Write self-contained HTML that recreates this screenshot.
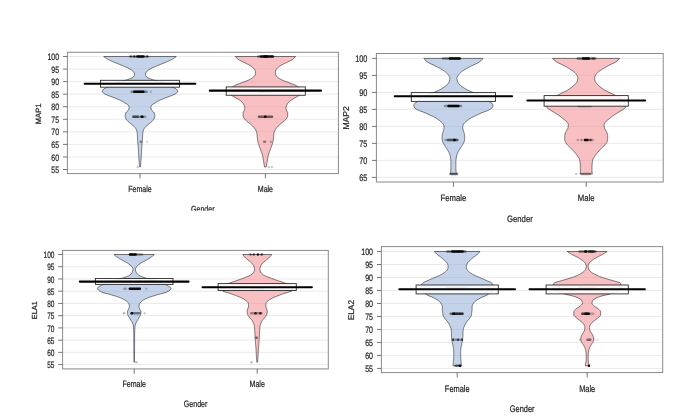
<!DOCTYPE html>
<html><head><meta charset="utf-8"><title>Pirate plots: MAP and ELA scores by gender</title>
<style>html,body{margin:0;padding:0;background:#fff;}body{width:694px;height:420px;overflow:hidden;font-family:"Liberation Sans",sans-serif;}svg{display:block;filter:blur(0.5px);}</style>
</head><body>
<svg width="694" height="420" viewBox="0 0 694 420"><defs><clipPath id="gc0"><rect x="0" y="0" width="694" height="210.7"/></clipPath></defs><g font-family="Liberation Sans, sans-serif" fill="#1e1e1e" stroke="#1e1e1e" stroke-width="0.22" text-rendering="geometricPrecision"><line x1="67.40" y1="169.50" x2="338.40" y2="169.50" stroke="#e8e8e8" stroke-width="0.9"/>
<line x1="67.40" y1="156.94" x2="338.40" y2="156.94" stroke="#e8e8e8" stroke-width="0.9"/>
<line x1="67.40" y1="144.38" x2="338.40" y2="144.38" stroke="#e8e8e8" stroke-width="0.9"/>
<line x1="67.40" y1="131.83" x2="338.40" y2="131.83" stroke="#e8e8e8" stroke-width="0.9"/>
<line x1="67.40" y1="119.28" x2="338.40" y2="119.28" stroke="#e8e8e8" stroke-width="0.9"/>
<line x1="67.40" y1="106.72" x2="338.40" y2="106.72" stroke="#e8e8e8" stroke-width="0.9"/>
<line x1="67.40" y1="94.16" x2="338.40" y2="94.16" stroke="#e8e8e8" stroke-width="0.9"/>
<line x1="67.40" y1="81.61" x2="338.40" y2="81.61" stroke="#e8e8e8" stroke-width="0.9"/>
<line x1="67.40" y1="69.06" x2="338.40" y2="69.06" stroke="#e8e8e8" stroke-width="0.9"/>
<line x1="67.40" y1="56.50" x2="338.40" y2="56.50" stroke="#e8e8e8" stroke-width="0.9"/>
<path d="M176.32,56.50 L175.70,57.00 L175.01,57.50 L174.27,58.00 L173.48,58.50 L172.64,59.00 L171.76,59.50 L170.84,60.00 L169.82,60.50 L168.73,61.00 L167.59,61.50 L166.42,62.00 L165.24,62.50 L164.03,63.00 L162.76,63.50 L161.46,64.00 L160.16,64.50 L158.88,65.00 L157.66,65.50 L156.46,66.00 L155.27,66.50 L154.11,67.00 L153.00,67.50 L151.97,68.00 L151.04,68.50 L150.13,69.00 L149.25,69.50 L148.44,70.00 L147.74,70.50 L147.19,71.00 L146.76,71.50 L146.35,72.00 L145.98,72.50 L145.68,73.00 L145.47,73.50 L145.40,74.00 L145.44,74.50 L145.57,75.00 L145.76,75.50 L146.02,76.00 L146.33,76.50 L146.68,77.00 L147.33,77.50 L148.31,78.00 L149.47,78.50 L150.69,79.00 L152.05,79.50 L153.66,80.00 L155.46,80.50 L157.38,81.00 L159.33,81.50 L161.24,82.00 L163.04,82.50 L164.64,83.00 L165.99,83.50 L167.11,84.00 L168.12,84.50 L169.05,85.00 L169.91,85.50 L170.74,86.00 L171.57,86.50 L172.42,87.00 L173.31,87.50 L174.33,88.00 L175.48,88.50 L176.30,89.00 L176.74,89.50 L177.12,90.00 L177.40,90.50 L177.57,91.00 L177.58,91.49 L177.41,91.99 L177.14,92.49 L176.66,92.99 L175.97,93.49 L175.18,93.99 L174.19,94.49 L173.05,94.99 L171.85,95.49 L170.63,95.99 L169.32,96.49 L167.98,96.99 L166.65,97.49 L165.32,97.99 L163.99,98.49 L162.70,98.99 L161.49,99.49 L160.32,99.99 L159.20,100.49 L158.21,100.99 L157.37,101.49 L156.61,101.99 L155.87,102.49 L155.08,102.99 L154.16,103.49 L153.28,103.99 L152.61,104.49 L152.10,104.99 L151.62,105.49 L151.23,105.99 L150.97,106.49 L150.90,106.99 L150.93,107.49 L150.99,107.99 L151.09,108.49 L151.20,108.99 L151.34,109.49 L151.53,109.99 L151.90,110.49 L152.42,110.99 L152.98,111.49 L153.53,111.99 L153.97,112.49 L154.24,112.99 L154.42,113.49 L154.59,113.99 L154.74,114.49 L154.84,114.99 L154.89,115.49 L154.89,115.99 L154.83,116.49 L154.73,116.99 L154.59,117.49 L154.42,117.99 L154.24,118.49 L154.02,118.99 L153.70,119.49 L153.31,119.99 L152.87,120.49 L152.39,120.99 L151.91,121.49 L151.38,121.99 L150.78,122.49 L150.15,122.99 L149.51,123.49 L148.87,123.99 L148.27,124.49 L147.66,124.99 L147.03,125.49 L146.42,125.99 L145.87,126.49 L145.39,126.99 L144.99,127.49 L144.62,127.99 L144.27,128.49 L143.97,128.99 L143.71,129.49 L143.50,129.99 L143.34,130.49 L143.18,130.99 L143.05,131.49 L142.94,131.99 L142.85,132.49 L142.79,132.99 L142.75,133.49 L142.72,133.99 L142.69,134.49 L142.66,134.99 L142.64,135.49 L142.62,135.99 L142.60,136.49 L142.58,136.99 L142.56,137.49 L142.54,137.99 L142.51,138.49 L142.47,138.99 L142.43,139.49 L142.39,139.99 L142.35,140.49 L142.30,140.99 L142.26,141.49 L142.21,141.99 L142.16,142.49 L142.11,142.99 L142.07,143.49 L142.03,143.99 L141.99,144.49 L141.95,144.99 L141.91,145.49 L141.87,145.99 L141.83,146.49 L141.80,146.99 L141.76,147.49 L141.73,147.99 L141.70,148.49 L141.66,148.99 L141.63,149.49 L141.60,149.99 L141.57,150.49 L141.54,150.99 L141.52,151.49 L141.49,151.99 L141.47,152.49 L141.44,152.99 L141.42,153.49 L141.39,153.99 L141.37,154.49 L141.34,154.99 L141.31,155.49 L141.28,155.99 L141.25,156.49 L141.22,156.99 L141.19,157.49 L141.15,157.99 L141.12,158.49 L141.08,158.99 L141.05,159.49 L141.01,159.99 L140.97,160.48 L140.93,160.98 L140.89,161.48 L140.85,161.98 L140.81,162.48 L140.77,162.98 L140.73,163.48 L140.68,163.98 L140.63,164.48 L140.58,164.98 L140.53,165.48 L140.46,165.98 L140.39,166.48 L140.30,166.98 L139.70,166.98 L139.61,166.48 L139.54,165.98 L139.47,165.48 L139.42,164.98 L139.37,164.48 L139.32,163.98 L139.27,163.48 L139.23,162.98 L139.19,162.48 L139.15,161.98 L139.11,161.48 L139.07,160.98 L139.03,160.48 L138.99,159.99 L138.95,159.49 L138.92,158.99 L138.88,158.49 L138.85,157.99 L138.81,157.49 L138.78,156.99 L138.75,156.49 L138.72,155.99 L138.69,155.49 L138.66,154.99 L138.63,154.49 L138.61,153.99 L138.58,153.49 L138.56,152.99 L138.53,152.49 L138.51,151.99 L138.48,151.49 L138.46,150.99 L138.43,150.49 L138.40,149.99 L138.37,149.49 L138.34,148.99 L138.30,148.49 L138.27,147.99 L138.24,147.49 L138.20,146.99 L138.17,146.49 L138.13,145.99 L138.09,145.49 L138.05,144.99 L138.01,144.49 L137.97,143.99 L137.93,143.49 L137.89,142.99 L137.84,142.49 L137.79,141.99 L137.74,141.49 L137.70,140.99 L137.65,140.49 L137.61,139.99 L137.57,139.49 L137.53,138.99 L137.49,138.49 L137.46,137.99 L137.44,137.49 L137.42,136.99 L137.40,136.49 L137.38,135.99 L137.36,135.49 L137.34,134.99 L137.31,134.49 L137.28,133.99 L137.25,133.49 L137.21,132.99 L137.15,132.49 L137.06,131.99 L136.95,131.49 L136.82,130.99 L136.66,130.49 L136.50,129.99 L136.29,129.49 L136.03,128.99 L135.73,128.49 L135.38,127.99 L135.01,127.49 L134.61,126.99 L134.13,126.49 L133.58,125.99 L132.97,125.49 L132.34,124.99 L131.73,124.49 L131.13,123.99 L130.49,123.49 L129.85,122.99 L129.22,122.49 L128.62,121.99 L128.09,121.49 L127.61,120.99 L127.13,120.49 L126.69,119.99 L126.30,119.49 L125.98,118.99 L125.76,118.49 L125.58,117.99 L125.41,117.49 L125.27,116.99 L125.17,116.49 L125.11,115.99 L125.11,115.49 L125.16,114.99 L125.26,114.49 L125.41,113.99 L125.58,113.49 L125.76,112.99 L126.03,112.49 L126.47,111.99 L127.02,111.49 L127.58,110.99 L128.10,110.49 L128.47,109.99 L128.66,109.49 L128.80,108.99 L128.91,108.49 L129.01,107.99 L129.07,107.49 L129.10,106.99 L129.03,106.49 L128.77,105.99 L128.38,105.49 L127.90,104.99 L127.39,104.49 L126.72,103.99 L125.84,103.49 L124.92,102.99 L124.13,102.49 L123.39,101.99 L122.63,101.49 L121.79,100.99 L120.80,100.49 L119.68,99.99 L118.51,99.49 L117.30,98.99 L116.01,98.49 L114.68,97.99 L113.35,97.49 L112.02,96.99 L110.68,96.49 L109.37,95.99 L108.15,95.49 L106.95,94.99 L105.81,94.49 L104.82,93.99 L104.03,93.49 L103.34,92.99 L102.86,92.49 L102.59,91.99 L102.42,91.49 L102.43,91.00 L102.60,90.50 L102.88,90.00 L103.26,89.50 L103.70,89.00 L104.52,88.50 L105.67,88.00 L106.69,87.50 L107.58,87.00 L108.43,86.50 L109.26,86.00 L110.09,85.50 L110.95,85.00 L111.88,84.50 L112.89,84.00 L114.01,83.50 L115.36,83.00 L116.96,82.50 L118.76,82.00 L120.67,81.50 L122.62,81.00 L124.54,80.50 L126.34,80.00 L127.95,79.50 L129.31,79.00 L130.53,78.50 L131.69,78.00 L132.67,77.50 L133.32,77.00 L133.67,76.50 L133.98,76.00 L134.24,75.50 L134.43,75.00 L134.56,74.50 L134.60,74.00 L134.53,73.50 L134.32,73.00 L134.02,72.50 L133.65,72.00 L133.24,71.50 L132.81,71.00 L132.26,70.50 L131.56,70.00 L130.75,69.50 L129.87,69.00 L128.96,68.50 L128.03,68.00 L127.00,67.50 L125.89,67.00 L124.73,66.50 L123.54,66.00 L122.34,65.50 L121.12,65.00 L119.84,64.50 L118.54,64.00 L117.24,63.50 L115.97,63.00 L114.76,62.50 L113.58,62.00 L112.41,61.50 L111.27,61.00 L110.18,60.50 L109.16,60.00 L108.24,59.50 L107.36,59.00 L106.52,58.50 L105.73,58.00 L104.99,57.50 L104.30,57.00 L103.68,56.50 Z" fill="rgb(148,175,217)" fill-opacity="0.55" stroke="rgba(0,0,0,0.72)" stroke-width="0.7" stroke-linejoin="round"/>
<path d="M295.67,56.50 L295.27,57.00 L294.79,57.50 L294.24,58.00 L293.64,58.50 L292.99,59.00 L292.29,59.50 L291.54,60.00 L290.66,60.50 L289.68,61.00 L288.65,61.50 L287.61,62.00 L286.60,62.50 L285.61,63.00 L284.59,63.50 L283.57,64.00 L282.59,64.50 L281.67,65.00 L280.85,65.50 L280.07,66.00 L279.33,66.50 L278.63,67.00 L278.01,67.50 L277.47,68.00 L277.03,68.50 L276.62,69.00 L276.23,69.50 L275.89,70.00 L275.64,70.50 L275.51,71.00 L275.48,71.50 L275.45,72.00 L275.43,72.50 L275.41,73.00 L275.40,73.50 L275.40,74.00 L275.48,74.50 L275.69,75.00 L276.01,75.50 L276.41,76.00 L276.84,76.50 L277.29,77.00 L277.84,77.50 L278.53,78.00 L279.32,78.50 L280.19,79.00 L281.12,79.50 L282.10,80.00 L283.23,80.50 L284.48,81.00 L285.80,81.50 L287.13,82.00 L288.44,82.50 L289.74,83.00 L291.13,83.50 L292.53,84.00 L293.86,84.50 L295.03,85.00 L295.96,85.50 L296.81,86.00 L297.65,86.50 L298.47,87.00 L299.26,87.50 L299.99,88.00 L300.66,88.50 L301.24,89.00 L301.72,89.50 L302.09,90.00 L302.32,90.50 L302.40,91.00 L302.34,91.49 L302.17,91.99 L301.90,92.49 L301.54,92.99 L301.12,93.49 L300.64,93.99 L300.12,94.49 L299.58,94.99 L299.02,95.49 L298.37,95.99 L297.50,96.49 L296.55,96.99 L295.63,97.49 L294.73,97.99 L293.81,98.49 L292.94,98.99 L292.13,99.49 L291.37,99.99 L290.65,100.49 L290.01,100.99 L289.44,101.49 L288.92,101.99 L288.46,102.49 L288.05,102.99 L287.67,103.49 L287.34,103.99 L287.05,104.49 L286.82,104.99 L286.61,105.49 L286.44,105.99 L286.30,106.49 L286.19,106.99 L286.08,107.49 L286.01,107.99 L286.01,108.49 L286.09,108.99 L286.24,109.49 L286.40,109.99 L286.60,110.49 L286.88,110.99 L287.18,111.49 L287.46,111.99 L287.64,112.49 L287.70,112.99 L287.70,113.49 L287.70,113.99 L287.70,114.49 L287.70,114.99 L287.70,115.49 L287.68,115.99 L287.57,116.49 L287.39,116.99 L287.14,117.49 L286.86,117.99 L286.56,118.49 L286.23,118.99 L285.80,119.49 L285.29,119.99 L284.74,120.49 L284.16,120.99 L283.60,121.49 L283.01,121.99 L282.37,122.49 L281.72,122.99 L281.08,123.49 L280.46,123.99 L279.89,124.49 L279.33,124.99 L278.78,125.49 L278.25,125.99 L277.75,126.49 L277.30,126.99 L276.87,127.49 L276.46,127.99 L276.07,128.49 L275.71,128.99 L275.38,129.49 L275.11,129.99 L274.86,130.49 L274.63,130.99 L274.42,131.49 L274.23,131.99 L274.09,132.49 L273.98,132.99 L273.91,133.49 L273.84,133.99 L273.78,134.49 L273.73,134.99 L273.68,135.49 L273.64,135.99 L273.60,136.49 L273.56,136.99 L273.52,137.49 L273.47,137.99 L273.41,138.49 L273.35,138.99 L273.29,139.49 L273.22,139.99 L273.15,140.49 L273.07,140.99 L272.98,141.49 L272.87,141.99 L272.75,142.49 L272.60,142.99 L272.45,143.49 L272.30,143.99 L272.14,144.49 L271.98,144.99 L271.80,145.49 L271.62,145.99 L271.43,146.49 L271.24,146.99 L271.05,147.49 L270.85,147.99 L270.66,148.49 L270.47,148.99 L270.28,149.49 L270.10,149.99 L269.93,150.49 L269.75,150.99 L269.56,151.49 L269.38,151.99 L269.19,152.49 L269.02,152.99 L268.84,153.49 L268.68,153.99 L268.52,154.49 L268.38,154.99 L268.25,155.49 L268.14,155.99 L268.03,156.49 L267.93,156.99 L267.84,157.49 L267.75,157.99 L267.67,158.49 L267.59,158.99 L267.51,159.49 L267.43,159.99 L267.35,160.48 L267.27,160.98 L267.19,161.48 L267.10,161.98 L267.02,162.48 L266.94,162.98 L266.85,163.48 L266.77,163.98 L266.69,164.48 L266.61,164.98 L266.53,165.48 L266.46,165.98 L266.38,166.48 L266.30,166.98 L264.50,166.98 L264.42,166.48 L264.34,165.98 L264.27,165.48 L264.19,164.98 L264.11,164.48 L264.03,163.98 L263.95,163.48 L263.86,162.98 L263.78,162.48 L263.70,161.98 L263.61,161.48 L263.53,160.98 L263.45,160.48 L263.37,159.99 L263.29,159.49 L263.21,158.99 L263.13,158.49 L263.05,157.99 L262.96,157.49 L262.87,156.99 L262.77,156.49 L262.66,155.99 L262.55,155.49 L262.42,154.99 L262.28,154.49 L262.12,153.99 L261.96,153.49 L261.78,152.99 L261.61,152.49 L261.42,151.99 L261.24,151.49 L261.05,150.99 L260.87,150.49 L260.70,149.99 L260.52,149.49 L260.33,148.99 L260.14,148.49 L259.95,147.99 L259.75,147.49 L259.56,146.99 L259.37,146.49 L259.18,145.99 L259.00,145.49 L258.82,144.99 L258.66,144.49 L258.50,143.99 L258.35,143.49 L258.20,142.99 L258.05,142.49 L257.93,141.99 L257.82,141.49 L257.73,140.99 L257.65,140.49 L257.58,139.99 L257.51,139.49 L257.45,138.99 L257.39,138.49 L257.33,137.99 L257.28,137.49 L257.24,136.99 L257.20,136.49 L257.16,135.99 L257.12,135.49 L257.07,134.99 L257.02,134.49 L256.96,133.99 L256.89,133.49 L256.82,132.99 L256.71,132.49 L256.57,131.99 L256.38,131.49 L256.17,130.99 L255.94,130.49 L255.69,129.99 L255.42,129.49 L255.09,128.99 L254.73,128.49 L254.34,127.99 L253.93,127.49 L253.50,126.99 L253.05,126.49 L252.55,125.99 L252.02,125.49 L251.47,124.99 L250.91,124.49 L250.34,123.99 L249.72,123.49 L249.08,122.99 L248.43,122.49 L247.79,121.99 L247.20,121.49 L246.64,120.99 L246.06,120.49 L245.51,119.99 L245.00,119.49 L244.57,118.99 L244.24,118.49 L243.94,117.99 L243.66,117.49 L243.41,116.99 L243.23,116.49 L243.12,115.99 L243.10,115.49 L243.10,114.99 L243.10,114.49 L243.10,113.99 L243.10,113.49 L243.10,112.99 L243.16,112.49 L243.34,111.99 L243.62,111.49 L243.92,110.99 L244.20,110.49 L244.40,109.99 L244.56,109.49 L244.71,108.99 L244.79,108.49 L244.79,107.99 L244.72,107.49 L244.61,106.99 L244.50,106.49 L244.36,105.99 L244.19,105.49 L243.98,104.99 L243.75,104.49 L243.46,103.99 L243.13,103.49 L242.75,102.99 L242.34,102.49 L241.88,101.99 L241.36,101.49 L240.79,100.99 L240.15,100.49 L239.43,99.99 L238.67,99.49 L237.86,98.99 L236.99,98.49 L236.07,97.99 L235.17,97.49 L234.25,96.99 L233.30,96.49 L232.43,95.99 L231.78,95.49 L231.22,94.99 L230.68,94.49 L230.16,93.99 L229.68,93.49 L229.26,92.99 L228.90,92.49 L228.63,91.99 L228.46,91.49 L228.40,91.00 L228.48,90.50 L228.71,90.00 L229.08,89.50 L229.56,89.00 L230.14,88.50 L230.81,88.00 L231.54,87.50 L232.33,87.00 L233.15,86.50 L233.99,86.00 L234.84,85.50 L235.77,85.00 L236.94,84.50 L238.27,84.00 L239.67,83.50 L241.06,83.00 L242.36,82.50 L243.67,82.00 L245.00,81.50 L246.32,81.00 L247.57,80.50 L248.70,80.00 L249.68,79.50 L250.61,79.00 L251.48,78.50 L252.27,78.00 L252.96,77.50 L253.51,77.00 L253.96,76.50 L254.39,76.00 L254.79,75.50 L255.11,75.00 L255.32,74.50 L255.40,74.00 L255.40,73.50 L255.39,73.00 L255.37,72.50 L255.35,72.00 L255.32,71.50 L255.29,71.00 L255.16,70.50 L254.91,70.00 L254.57,69.50 L254.18,69.00 L253.77,68.50 L253.33,68.00 L252.79,67.50 L252.17,67.00 L251.47,66.50 L250.73,66.00 L249.95,65.50 L249.13,65.00 L248.21,64.50 L247.23,64.00 L246.21,63.50 L245.19,63.00 L244.20,62.50 L243.19,62.00 L242.15,61.50 L241.12,61.00 L240.14,60.50 L239.26,60.00 L238.51,59.50 L237.81,59.00 L237.16,58.50 L236.56,58.00 L236.01,57.50 L235.53,57.00 L235.13,56.50 Z" fill="rgb(244,140,148)" fill-opacity="0.55" stroke="rgba(0,0,0,0.72)" stroke-width="0.7" stroke-linejoin="round"/>
<rect x="129.80" y="55.25" width="18.70" height="2.50" rx="1.25" fill="#000" fill-opacity="0.25" stroke="none"/>
<circle cx="130.50" cy="56.50" r="1.25" fill="#000" fill-opacity="0.5" stroke="none"/>
<circle cx="134.30" cy="56.50" r="1.25" fill="#000" fill-opacity="0.6" stroke="none"/>
<circle cx="147.30" cy="56.50" r="1.25" fill="#000" fill-opacity="0.55" stroke="none"/>
<rect x="136.10" y="55.25" width="8.60" height="2.50" rx="1.25" fill="#000" fill-opacity="0.95" stroke="none"/>
<rect x="130.50" y="90.40" width="17.50" height="2.50" rx="1.25" fill="#000" fill-opacity="0.4" stroke="none"/>
<rect x="133.10" y="90.40" width="11.50" height="2.50" rx="1.25" fill="#000" fill-opacity="0.95" stroke="none"/>
<circle cx="150.90" cy="91.65" r="1.25" fill="#000" fill-opacity="0.2" stroke="none"/>
<rect x="132.20" y="115.51" width="14.30" height="2.50" rx="1.25" fill="#000" fill-opacity="0.3" stroke="none"/>
<rect x="132.20" y="115.51" width="7.00" height="2.50" rx="1.25" fill="#000" fill-opacity="0.5" stroke="none"/>
<rect x="140.40" y="115.51" width="3.30" height="2.50" rx="1.25" fill="#000" fill-opacity="0.95" stroke="none"/>
<rect x="139.30" y="140.62" width="3.10" height="2.50" rx="1.25" fill="#000" fill-opacity="0.35" stroke="none"/>
<circle cx="147.20" cy="141.87" r="1.25" fill="#000" fill-opacity="0.15" stroke="none"/>
<circle cx="137.60" cy="166.98" r="1.25" fill="#000" fill-opacity="0.2" stroke="none"/>
<rect x="257.20" y="55.25" width="17.10" height="2.50" rx="1.25" fill="#000" fill-opacity="0.45" stroke="none"/>
<rect x="259.80" y="55.25" width="14.10" height="2.50" rx="1.25" fill="#000" fill-opacity="0.8" stroke="none"/>
<rect x="263.30" y="55.25" width="4.60" height="2.50" rx="1.25" fill="#000" fill-opacity="0.95" stroke="none"/>
<rect x="258.30" y="90.40" width="14.40" height="2.50" rx="1.25" fill="#000" fill-opacity="0.6" stroke="none"/>
<rect x="257.70" y="115.51" width="15.60" height="2.50" rx="1.25" fill="#000" fill-opacity="0.55" stroke="none"/>
<rect x="263.80" y="115.51" width="2.90" height="2.50" rx="1.25" fill="#000" fill-opacity="0.95" stroke="none"/>
<rect x="262.90" y="140.62" width="3.50" height="2.50" rx="1.25" fill="#000" fill-opacity="0.4" stroke="none"/>
<circle cx="270.90" cy="141.87" r="1.25" fill="#000" fill-opacity="0.25" stroke="none"/>
<circle cx="268.80" cy="166.98" r="1.25" fill="#000" fill-opacity="0.2" stroke="none"/>
<circle cx="271.90" cy="166.98" r="1.25" fill="#000" fill-opacity="0.2" stroke="none"/>
<rect x="100.45" y="80.30" width="79.10" height="6.90" fill="#fff" fill-opacity="0.9" stroke="#2a2a2a" stroke-width="0.9"/>
<line x1="84.65" y1="83.70" x2="195.35" y2="83.70" stroke="#000" stroke-width="2.1" stroke-linecap="round"/>
<rect x="226.20" y="86.90" width="79.10" height="8.35" fill="#fff" fill-opacity="0.9" stroke="#2a2a2a" stroke-width="0.9"/>
<line x1="209.85" y1="90.65" x2="320.95" y2="90.65" stroke="#000" stroke-width="2.1" stroke-linecap="round"/>
<rect x="67.40" y="52.30" width="271.00" height="121.30" fill="none" stroke="#8a8a8a" stroke-width="1.0"/>
<line x1="63.00" y1="169.50" x2="67.40" y2="169.50" stroke="#666" stroke-width="0.9"/>
<text transform="translate(59.00,173.12) scale(0.745,1)" font-size="9.3" text-anchor="end">55</text>
<line x1="63.00" y1="156.94" x2="67.40" y2="156.94" stroke="#666" stroke-width="0.9"/>
<text transform="translate(59.00,160.57) scale(0.745,1)" font-size="9.3" text-anchor="end">60</text>
<line x1="63.00" y1="144.38" x2="67.40" y2="144.38" stroke="#666" stroke-width="0.9"/>
<text transform="translate(59.00,148.01) scale(0.745,1)" font-size="9.3" text-anchor="end">65</text>
<line x1="63.00" y1="131.83" x2="67.40" y2="131.83" stroke="#666" stroke-width="0.9"/>
<text transform="translate(59.00,135.46) scale(0.745,1)" font-size="9.3" text-anchor="end">70</text>
<line x1="63.00" y1="119.28" x2="67.40" y2="119.28" stroke="#666" stroke-width="0.9"/>
<text transform="translate(59.00,122.90) scale(0.745,1)" font-size="9.3" text-anchor="end">75</text>
<line x1="63.00" y1="106.72" x2="67.40" y2="106.72" stroke="#666" stroke-width="0.9"/>
<text transform="translate(59.00,110.35) scale(0.745,1)" font-size="9.3" text-anchor="end">80</text>
<line x1="63.00" y1="94.16" x2="67.40" y2="94.16" stroke="#666" stroke-width="0.9"/>
<text transform="translate(59.00,97.79) scale(0.745,1)" font-size="9.3" text-anchor="end">85</text>
<line x1="63.00" y1="81.61" x2="67.40" y2="81.61" stroke="#666" stroke-width="0.9"/>
<text transform="translate(59.00,85.24) scale(0.745,1)" font-size="9.3" text-anchor="end">90</text>
<line x1="63.00" y1="69.06" x2="67.40" y2="69.06" stroke="#666" stroke-width="0.9"/>
<text transform="translate(59.00,72.68) scale(0.745,1)" font-size="9.3" text-anchor="end">95</text>
<line x1="63.00" y1="56.50" x2="67.40" y2="56.50" stroke="#666" stroke-width="0.9"/>
<text transform="translate(59.00,60.13) scale(0.745,1)" font-size="9.3" text-anchor="end">100</text>
<line x1="140.00" y1="173.60" x2="140.00" y2="178.40" stroke="#666" stroke-width="0.9"/>
<text transform="translate(140.00,191.70) scale(0.8,1)" font-size="8.82" text-anchor="middle">Female</text>
<line x1="265.40" y1="173.60" x2="265.40" y2="178.40" stroke="#666" stroke-width="0.9"/>
<text transform="translate(265.40,191.70) scale(0.8,1)" font-size="8.82" text-anchor="middle">Male</text>
<g clip-path="url(#gc0)"><text transform="translate(202.80,212.40) scale(0.8,1)" font-size="8.82" text-anchor="middle">Gender</text></g>
<text transform="translate(41.19,113.85) rotate(-90) scale(1,1)" font-size="7.66" text-anchor="middle">MAP1</text>
<line x1="376.40" y1="177.40" x2="663.20" y2="177.40" stroke="#e8e8e8" stroke-width="0.9"/>
<line x1="376.40" y1="160.40" x2="663.20" y2="160.40" stroke="#e8e8e8" stroke-width="0.9"/>
<line x1="376.40" y1="143.40" x2="663.20" y2="143.40" stroke="#e8e8e8" stroke-width="0.9"/>
<line x1="376.40" y1="126.40" x2="663.20" y2="126.40" stroke="#e8e8e8" stroke-width="0.9"/>
<line x1="376.40" y1="109.40" x2="663.20" y2="109.40" stroke="#e8e8e8" stroke-width="0.9"/>
<line x1="376.40" y1="92.40" x2="663.20" y2="92.40" stroke="#e8e8e8" stroke-width="0.9"/>
<line x1="376.40" y1="75.40" x2="663.20" y2="75.40" stroke="#e8e8e8" stroke-width="0.9"/>
<line x1="376.40" y1="58.40" x2="663.20" y2="58.40" stroke="#e8e8e8" stroke-width="0.9"/>
<path d="M482.90,58.40 L482.62,58.90 L482.25,59.40 L481.81,59.89 L481.30,60.39 L480.73,60.89 L480.11,61.39 L479.46,61.89 L478.78,62.39 L477.96,62.88 L476.99,63.38 L475.92,63.88 L474.80,64.38 L473.69,64.88 L472.65,65.38 L471.65,65.87 L470.65,66.37 L469.65,66.87 L468.67,67.37 L467.72,67.87 L466.81,68.37 L465.95,68.86 L465.10,69.36 L464.26,69.86 L463.47,70.36 L462.72,70.86 L462.03,71.36 L461.42,71.85 L460.84,72.35 L460.30,72.85 L459.79,73.35 L459.33,73.85 L458.91,74.34 L458.54,74.84 L458.19,75.34 L457.84,75.84 L457.51,76.34 L457.22,76.84 L457.01,77.33 L456.91,77.83 L456.91,78.33 L456.95,78.83 L457.01,79.33 L457.10,79.83 L457.21,80.32 L457.33,80.82 L457.46,81.32 L457.65,81.82 L457.90,82.32 L458.20,82.82 L458.54,83.31 L458.91,83.81 L459.31,84.31 L459.77,84.81 L460.32,85.31 L460.94,85.81 L461.62,86.30 L462.33,86.80 L463.05,87.30 L463.79,87.80 L464.57,88.30 L465.39,88.79 L466.25,89.29 L467.15,89.79 L468.09,90.29 L469.08,90.79 L470.19,91.29 L471.41,91.78 L472.72,92.28 L474.08,92.78 L475.48,93.28 L476.89,93.78 L478.28,94.28 L479.63,94.77 L480.90,95.27 L482.08,95.77 L483.13,96.27 L484.04,96.77 L484.78,97.27 L485.42,97.76 L485.98,98.26 L486.49,98.76 L486.97,99.26 L487.43,99.76 L487.89,100.26 L488.38,100.75 L488.91,101.25 L489.51,101.75 L490.25,102.25 L491.17,102.75 L491.96,103.24 L492.35,103.74 L492.64,104.24 L492.86,104.74 L492.98,105.24 L492.98,105.74 L492.87,106.23 L492.67,106.73 L492.43,107.23 L492.13,107.73 L491.69,108.23 L491.12,108.73 L490.35,109.22 L489.42,109.72 L488.39,110.22 L487.32,110.72 L486.08,111.22 L484.72,111.72 L483.34,112.21 L482.01,112.71 L480.81,113.21 L479.69,113.71 L478.61,114.21 L477.56,114.71 L476.52,115.20 L475.49,115.70 L474.44,116.20 L473.38,116.70 L472.36,117.20 L471.41,117.69 L470.55,118.19 L469.77,118.69 L469.05,119.19 L468.38,119.69 L467.73,120.19 L467.09,120.68 L466.45,121.18 L465.82,121.68 L465.22,122.18 L464.69,122.68 L464.24,123.18 L463.84,123.67 L463.50,124.17 L463.28,124.67 L463.11,125.17 L462.97,125.67 L462.84,126.17 L462.75,126.66 L462.71,127.16 L462.71,127.66 L462.77,128.16 L462.87,128.66 L462.99,129.16 L463.13,129.65 L463.26,130.15 L463.39,130.65 L463.53,131.15 L463.68,131.65 L463.84,132.14 L463.98,132.64 L464.11,133.14 L464.24,133.64 L464.38,134.14 L464.51,134.64 L464.62,135.13 L464.68,135.63 L464.70,136.13 L464.70,136.63 L464.70,137.13 L464.70,137.63 L464.70,138.12 L464.70,138.62 L464.69,139.12 L464.64,139.62 L464.55,140.12 L464.42,140.62 L464.28,141.11 L464.13,141.61 L463.96,142.11 L463.75,142.61 L463.51,143.11 L463.25,143.61 L462.98,144.10 L462.70,144.60 L462.41,145.10 L462.10,145.60 L461.77,146.10 L461.44,146.59 L461.10,147.09 L460.77,147.59 L460.44,148.09 L460.10,148.59 L459.76,149.09 L459.43,149.58 L459.13,150.08 L458.84,150.58 L458.57,151.08 L458.31,151.58 L458.06,152.08 L457.83,152.57 L457.61,153.07 L457.41,153.57 L457.21,154.07 L457.01,154.57 L456.84,155.07 L456.70,155.56 L456.59,156.06 L456.49,156.56 L456.40,157.06 L456.31,157.56 L456.23,158.06 L456.16,158.55 L456.09,159.05 L456.03,159.55 L455.98,160.05 L455.94,160.55 L455.91,161.04 L455.90,161.54 L455.90,162.04 L455.90,162.54 L455.90,163.04 L455.90,163.54 L455.90,164.03 L455.90,164.53 L455.90,165.03 L455.90,165.53 L455.90,166.03 L455.90,166.53 L455.90,167.02 L455.90,167.52 L455.91,168.02 L455.92,168.52 L455.93,169.02 L455.96,169.52 L455.98,170.01 L456.01,170.51 L456.05,171.01 L456.09,171.51 L456.13,172.01 L456.20,172.51 L456.29,173.00 L456.39,173.50 L456.50,174.00 L450.30,174.00 L450.41,173.50 L450.51,173.00 L450.60,172.51 L450.67,172.01 L450.71,171.51 L450.75,171.01 L450.79,170.51 L450.82,170.01 L450.84,169.52 L450.87,169.02 L450.88,168.52 L450.89,168.02 L450.90,167.52 L450.90,167.02 L450.90,166.53 L450.90,166.03 L450.90,165.53 L450.90,165.03 L450.90,164.53 L450.90,164.03 L450.90,163.54 L450.90,163.04 L450.90,162.54 L450.90,162.04 L450.90,161.54 L450.89,161.04 L450.86,160.55 L450.82,160.05 L450.77,159.55 L450.71,159.05 L450.64,158.55 L450.57,158.06 L450.49,157.56 L450.40,157.06 L450.31,156.56 L450.21,156.06 L450.10,155.56 L449.96,155.07 L449.79,154.57 L449.59,154.07 L449.39,153.57 L449.19,153.07 L448.97,152.57 L448.74,152.08 L448.49,151.58 L448.23,151.08 L447.96,150.58 L447.67,150.08 L447.37,149.58 L447.04,149.09 L446.70,148.59 L446.36,148.09 L446.03,147.59 L445.70,147.09 L445.36,146.59 L445.03,146.10 L444.70,145.60 L444.39,145.10 L444.10,144.60 L443.82,144.10 L443.55,143.61 L443.29,143.11 L443.05,142.61 L442.84,142.11 L442.67,141.61 L442.52,141.11 L442.38,140.62 L442.25,140.12 L442.16,139.62 L442.11,139.12 L442.10,138.62 L442.10,138.12 L442.10,137.63 L442.10,137.13 L442.10,136.63 L442.10,136.13 L442.12,135.63 L442.18,135.13 L442.29,134.64 L442.42,134.14 L442.56,133.64 L442.69,133.14 L442.82,132.64 L442.96,132.14 L443.12,131.65 L443.27,131.15 L443.41,130.65 L443.54,130.15 L443.67,129.65 L443.81,129.16 L443.93,128.66 L444.03,128.16 L444.09,127.66 L444.09,127.16 L444.05,126.66 L443.96,126.17 L443.83,125.67 L443.69,125.17 L443.52,124.67 L443.30,124.17 L442.96,123.67 L442.56,123.18 L442.11,122.68 L441.58,122.18 L440.98,121.68 L440.35,121.18 L439.71,120.68 L439.07,120.19 L438.42,119.69 L437.75,119.19 L437.03,118.69 L436.25,118.19 L435.39,117.69 L434.44,117.20 L433.42,116.70 L432.36,116.20 L431.31,115.70 L430.28,115.20 L429.24,114.71 L428.19,114.21 L427.11,113.71 L425.99,113.21 L424.79,112.71 L423.46,112.21 L422.08,111.72 L420.72,111.22 L419.48,110.72 L418.41,110.22 L417.38,109.72 L416.45,109.22 L415.68,108.73 L415.11,108.23 L414.67,107.73 L414.37,107.23 L414.13,106.73 L413.93,106.23 L413.82,105.74 L413.82,105.24 L413.94,104.74 L414.16,104.24 L414.45,103.74 L414.84,103.24 L415.63,102.75 L416.55,102.25 L417.29,101.75 L417.89,101.25 L418.42,100.75 L418.91,100.26 L419.37,99.76 L419.83,99.26 L420.31,98.76 L420.82,98.26 L421.38,97.76 L422.02,97.27 L422.76,96.77 L423.67,96.27 L424.72,95.77 L425.90,95.27 L427.17,94.77 L428.52,94.28 L429.91,93.78 L431.32,93.28 L432.72,92.78 L434.08,92.28 L435.39,91.78 L436.61,91.29 L437.72,90.79 L438.71,90.29 L439.65,89.79 L440.55,89.29 L441.41,88.79 L442.23,88.30 L443.01,87.80 L443.75,87.30 L444.47,86.80 L445.18,86.30 L445.86,85.81 L446.48,85.31 L447.03,84.81 L447.49,84.31 L447.89,83.81 L448.26,83.31 L448.60,82.82 L448.90,82.32 L449.15,81.82 L449.34,81.32 L449.47,80.82 L449.59,80.32 L449.70,79.83 L449.79,79.33 L449.85,78.83 L449.89,78.33 L449.89,77.83 L449.79,77.33 L449.58,76.84 L449.29,76.34 L448.96,75.84 L448.61,75.34 L448.26,74.84 L447.89,74.34 L447.47,73.85 L447.01,73.35 L446.50,72.85 L445.96,72.35 L445.38,71.85 L444.77,71.36 L444.08,70.86 L443.33,70.36 L442.54,69.86 L441.70,69.36 L440.85,68.86 L439.99,68.37 L439.08,67.87 L438.13,67.37 L437.15,66.87 L436.15,66.37 L435.15,65.87 L434.15,65.38 L433.11,64.88 L432.00,64.38 L430.88,63.88 L429.81,63.38 L428.84,62.88 L428.02,62.39 L427.34,61.89 L426.69,61.39 L426.07,60.89 L425.50,60.39 L424.99,59.89 L424.55,59.40 L424.18,58.90 L423.90,58.40 Z" fill="rgb(148,175,217)" fill-opacity="0.55" stroke="rgba(0,0,0,0.72)" stroke-width="0.7" stroke-linejoin="round"/>
<path d="M619.80,58.40 L619.39,58.90 L618.91,59.40 L618.37,59.89 L617.78,60.39 L617.13,60.89 L616.44,61.39 L615.72,61.89 L614.97,62.39 L614.09,62.88 L613.09,63.38 L612.01,63.88 L610.91,64.38 L609.84,64.88 L608.85,65.38 L607.93,65.87 L607.04,66.37 L606.17,66.87 L605.32,67.37 L604.49,67.87 L603.68,68.37 L602.87,68.86 L602.05,69.36 L601.23,69.86 L600.44,70.36 L599.69,70.86 L599.02,71.36 L598.43,71.85 L597.87,72.35 L597.34,72.85 L596.85,73.35 L596.41,73.85 L596.03,74.34 L595.73,74.84 L595.47,75.34 L595.23,75.84 L595.00,76.34 L594.81,76.84 L594.67,77.33 L594.60,77.83 L594.61,78.33 L594.65,78.83 L594.71,79.33 L594.80,79.83 L594.91,80.32 L595.03,80.82 L595.17,81.32 L595.39,81.82 L595.69,82.32 L596.05,82.82 L596.45,83.31 L596.88,83.81 L597.31,84.31 L597.78,84.81 L598.30,85.31 L598.88,85.81 L599.49,86.30 L600.13,86.80 L600.77,87.30 L601.42,87.80 L602.09,88.30 L602.79,88.79 L603.52,89.29 L604.28,89.79 L605.08,90.29 L605.93,90.79 L606.87,91.29 L607.89,91.78 L608.95,92.28 L610.02,92.78 L611.06,93.28 L612.05,93.78 L613.05,94.28 L614.10,94.77 L615.18,95.27 L616.28,95.77 L617.36,96.27 L618.42,96.77 L619.42,97.27 L620.36,97.76 L621.21,98.26 L621.95,98.76 L622.57,99.26 L623.03,99.76 L623.35,100.26 L623.64,100.75 L623.92,101.25 L624.18,101.75 L624.43,102.25 L624.66,102.75 L624.88,103.24 L625.07,103.74 L625.24,104.24 L625.38,104.74 L625.50,105.24 L625.60,105.74 L625.66,106.23 L625.70,106.73 L625.65,107.23 L625.30,107.73 L624.72,108.23 L624.05,108.73 L623.41,109.22 L622.68,109.72 L621.86,110.22 L621.00,110.72 L620.14,111.22 L619.31,111.72 L618.51,112.21 L617.69,112.71 L616.89,113.21 L616.10,113.71 L615.34,114.21 L614.59,114.71 L613.86,115.20 L613.14,115.70 L612.44,116.20 L611.77,116.70 L611.12,117.20 L610.50,117.69 L609.89,118.19 L609.29,118.69 L608.69,119.19 L608.07,119.69 L607.43,120.19 L606.82,120.68 L606.27,121.18 L605.81,121.68 L605.41,122.18 L605.01,122.68 L604.65,123.18 L604.35,123.67 L604.16,124.17 L604.10,124.67 L604.11,125.17 L604.13,125.67 L604.17,126.17 L604.22,126.66 L604.27,127.16 L604.35,127.66 L604.52,128.16 L604.76,128.66 L605.05,129.16 L605.34,129.65 L605.62,130.15 L605.88,130.65 L606.16,131.15 L606.44,131.65 L606.71,132.14 L606.94,132.64 L607.11,133.14 L607.26,133.64 L607.40,134.14 L607.53,134.64 L607.62,135.13 L607.69,135.63 L607.70,136.13 L607.70,136.63 L607.70,137.13 L607.70,137.63 L607.70,138.12 L607.70,138.62 L607.69,139.12 L607.65,139.62 L607.55,140.12 L607.43,140.62 L607.28,141.11 L607.13,141.61 L606.94,142.11 L606.70,142.61 L606.39,143.11 L606.05,143.61 L605.68,144.10 L605.30,144.60 L604.87,145.10 L604.36,145.60 L603.82,146.10 L603.26,146.59 L602.72,147.09 L602.21,147.59 L601.72,148.09 L601.23,148.59 L600.75,149.09 L600.27,149.58 L599.80,150.08 L599.34,150.58 L598.88,151.08 L598.42,151.58 L597.98,152.08 L597.54,152.57 L597.12,153.07 L596.72,153.57 L596.32,154.07 L595.94,154.57 L595.56,155.07 L595.20,155.56 L594.86,156.06 L594.51,156.56 L594.15,157.06 L593.81,157.56 L593.50,158.06 L593.24,158.55 L593.05,159.05 L592.88,159.55 L592.73,160.05 L592.61,160.55 L592.50,161.04 L592.42,161.54 L592.36,162.04 L592.31,162.54 L592.25,163.04 L592.20,163.54 L592.16,164.03 L592.12,164.53 L592.08,165.03 L592.05,165.53 L592.03,166.03 L592.01,166.53 L592.00,167.02 L592.00,167.52 L592.00,168.02 L592.00,168.52 L592.00,169.02 L592.00,169.52 L592.00,170.01 L592.00,170.51 L592.00,171.01 L592.00,171.51 L592.01,172.01 L592.07,172.51 L592.16,173.00 L592.28,173.50 L592.40,174.00 L580.00,174.00 L580.12,173.50 L580.24,173.00 L580.33,172.51 L580.39,172.01 L580.40,171.51 L580.40,171.01 L580.40,170.51 L580.40,170.01 L580.40,169.52 L580.40,169.02 L580.40,168.52 L580.40,168.02 L580.40,167.52 L580.40,167.02 L580.39,166.53 L580.37,166.03 L580.35,165.53 L580.32,165.03 L580.28,164.53 L580.24,164.03 L580.20,163.54 L580.15,163.04 L580.09,162.54 L580.04,162.04 L579.98,161.54 L579.90,161.04 L579.79,160.55 L579.67,160.05 L579.52,159.55 L579.35,159.05 L579.16,158.55 L578.90,158.06 L578.59,157.56 L578.25,157.06 L577.89,156.56 L577.54,156.06 L577.20,155.56 L576.84,155.07 L576.46,154.57 L576.08,154.07 L575.68,153.57 L575.28,153.07 L574.86,152.57 L574.42,152.08 L573.98,151.58 L573.52,151.08 L573.06,150.58 L572.60,150.08 L572.13,149.58 L571.65,149.09 L571.17,148.59 L570.68,148.09 L570.19,147.59 L569.68,147.09 L569.14,146.59 L568.58,146.10 L568.04,145.60 L567.53,145.10 L567.10,144.60 L566.72,144.10 L566.35,143.61 L566.01,143.11 L565.70,142.61 L565.46,142.11 L565.27,141.61 L565.12,141.11 L564.97,140.62 L564.85,140.12 L564.75,139.62 L564.71,139.12 L564.70,138.62 L564.70,138.12 L564.70,137.63 L564.70,137.13 L564.70,136.63 L564.70,136.13 L564.71,135.63 L564.78,135.13 L564.87,134.64 L565.00,134.14 L565.14,133.64 L565.29,133.14 L565.46,132.64 L565.69,132.14 L565.96,131.65 L566.24,131.15 L566.52,130.65 L566.78,130.15 L567.06,129.65 L567.35,129.16 L567.64,128.66 L567.88,128.16 L568.05,127.66 L568.13,127.16 L568.18,126.66 L568.23,126.17 L568.27,125.67 L568.29,125.17 L568.30,124.67 L568.24,124.17 L568.05,123.67 L567.75,123.18 L567.39,122.68 L566.99,122.18 L566.59,121.68 L566.13,121.18 L565.58,120.68 L564.97,120.19 L564.33,119.69 L563.71,119.19 L563.11,118.69 L562.51,118.19 L561.90,117.69 L561.28,117.20 L560.63,116.70 L559.96,116.20 L559.26,115.70 L558.54,115.20 L557.81,114.71 L557.06,114.21 L556.30,113.71 L555.51,113.21 L554.71,112.71 L553.89,112.21 L553.09,111.72 L552.26,111.22 L551.40,110.72 L550.54,110.22 L549.72,109.72 L548.99,109.22 L548.35,108.73 L547.68,108.23 L547.10,107.73 L546.75,107.23 L546.70,106.73 L546.74,106.23 L546.80,105.74 L546.90,105.24 L547.02,104.74 L547.16,104.24 L547.33,103.74 L547.52,103.24 L547.74,102.75 L547.97,102.25 L548.22,101.75 L548.48,101.25 L548.76,100.75 L549.05,100.26 L549.37,99.76 L549.83,99.26 L550.45,98.76 L551.19,98.26 L552.04,97.76 L552.98,97.27 L553.98,96.77 L555.04,96.27 L556.12,95.77 L557.22,95.27 L558.30,94.77 L559.35,94.28 L560.35,93.78 L561.34,93.28 L562.38,92.78 L563.45,92.28 L564.51,91.78 L565.53,91.29 L566.47,90.79 L567.32,90.29 L568.12,89.79 L568.88,89.29 L569.61,88.79 L570.31,88.30 L570.98,87.80 L571.63,87.30 L572.27,86.80 L572.91,86.30 L573.52,85.81 L574.10,85.31 L574.62,84.81 L575.09,84.31 L575.52,83.81 L575.95,83.31 L576.35,82.82 L576.71,82.32 L577.01,81.82 L577.23,81.32 L577.37,80.82 L577.49,80.32 L577.60,79.83 L577.69,79.33 L577.75,78.83 L577.79,78.33 L577.80,77.83 L577.73,77.33 L577.59,76.84 L577.40,76.34 L577.17,75.84 L576.93,75.34 L576.67,74.84 L576.37,74.34 L575.99,73.85 L575.55,73.35 L575.06,72.85 L574.53,72.35 L573.97,71.85 L573.38,71.36 L572.71,70.86 L571.96,70.36 L571.17,69.86 L570.35,69.36 L569.53,68.86 L568.72,68.37 L567.91,67.87 L567.08,67.37 L566.23,66.87 L565.36,66.37 L564.47,65.87 L563.55,65.38 L562.56,64.88 L561.49,64.38 L560.39,63.88 L559.31,63.38 L558.31,62.88 L557.43,62.39 L556.68,61.89 L555.96,61.39 L555.27,60.89 L554.62,60.39 L554.03,59.89 L553.49,59.40 L553.01,58.90 L552.60,58.40 Z" fill="rgb(244,140,148)" fill-opacity="0.55" stroke="rgba(0,0,0,0.72)" stroke-width="0.7" stroke-linejoin="round"/>
<rect x="441.70" y="57.15" width="19.20" height="2.50" rx="1.25" fill="#000" fill-opacity="0.4" stroke="none"/>
<rect x="448.60" y="57.15" width="12.30" height="2.50" rx="1.25" fill="#000" fill-opacity="0.95" stroke="none"/>
<rect x="443.70" y="104.75" width="18.70" height="2.50" rx="1.25" fill="#000" fill-opacity="0.35" stroke="none"/>
<rect x="447.30" y="104.75" width="12.40" height="2.50" rx="1.25" fill="#000" fill-opacity="0.95" stroke="none"/>
<rect x="444.30" y="138.75" width="14.60" height="2.50" rx="1.25" fill="#000" fill-opacity="0.3" stroke="none"/>
<rect x="446.80" y="138.75" width="11.40" height="2.50" rx="1.25" fill="#000" fill-opacity="0.45" stroke="none"/>
<rect x="452.80" y="138.75" width="3.10" height="2.50" rx="1.25" fill="#000" fill-opacity="0.95" stroke="none"/>
<rect x="449.30" y="172.75" width="9.00" height="2.50" rx="1.25" fill="#000" fill-opacity="0.5" stroke="none"/>
<rect x="576.50" y="57.15" width="19.90" height="2.50" rx="1.25" fill="#000" fill-opacity="0.45" stroke="none"/>
<rect x="581.90" y="57.15" width="8.10" height="2.50" rx="1.25" fill="#000" fill-opacity="0.95" stroke="none"/>
<circle cx="593.50" cy="58.40" r="1.25" fill="#000" fill-opacity="0.5" stroke="none"/>
<rect x="577.30" y="104.75" width="14.80" height="2.50" rx="1.25" fill="#000" fill-opacity="0.5" stroke="none"/>
<circle cx="577.80" cy="140.00" r="1.25" fill="#000" fill-opacity="0.25" stroke="none"/>
<circle cx="581.50" cy="140.00" r="1.25" fill="#000" fill-opacity="0.35" stroke="none"/>
<rect x="583.70" y="138.75" width="10.20" height="2.50" rx="1.25" fill="#000" fill-opacity="0.3" stroke="none"/>
<rect x="589.25" y="138.75" width="2.50" height="2.50" rx="1.25" fill="#000" fill-opacity="0.6" stroke="none"/>
<rect x="583.70" y="138.75" width="5.00" height="2.50" rx="1.25" fill="#000" fill-opacity="0.95" stroke="none"/>
<circle cx="576.20" cy="174.00" r="1.25" fill="#000" fill-opacity="0.2" stroke="none"/>
<rect x="580.30" y="172.75" width="10.80" height="2.50" rx="1.25" fill="#000" fill-opacity="0.35" stroke="none"/>
<rect x="411.30" y="92.60" width="84.20" height="8.80" fill="#fff" fill-opacity="0.9" stroke="#2a2a2a" stroke-width="0.9"/>
<line x1="394.75" y1="96.20" x2="512.05" y2="96.20" stroke="#000" stroke-width="2.1" stroke-linecap="round"/>
<rect x="544.10" y="95.60" width="84.20" height="10.60" fill="#fff" fill-opacity="0.9" stroke="#2a2a2a" stroke-width="0.9"/>
<line x1="527.35" y1="100.55" x2="645.05" y2="100.55" stroke="#000" stroke-width="2.1" stroke-linecap="round"/>
<rect x="376.40" y="53.50" width="286.80" height="128.50" fill="none" stroke="#8a8a8a" stroke-width="1.0"/>
<line x1="372.00" y1="177.40" x2="376.40" y2="177.40" stroke="#666" stroke-width="0.9"/>
<text transform="translate(367.40,181.14) scale(0.76,1)" font-size="9.58" text-anchor="end">65</text>
<line x1="372.00" y1="160.40" x2="376.40" y2="160.40" stroke="#666" stroke-width="0.9"/>
<text transform="translate(367.40,164.14) scale(0.76,1)" font-size="9.58" text-anchor="end">70</text>
<line x1="372.00" y1="143.40" x2="376.40" y2="143.40" stroke="#666" stroke-width="0.9"/>
<text transform="translate(367.40,147.14) scale(0.76,1)" font-size="9.58" text-anchor="end">75</text>
<line x1="372.00" y1="126.40" x2="376.40" y2="126.40" stroke="#666" stroke-width="0.9"/>
<text transform="translate(367.40,130.14) scale(0.76,1)" font-size="9.58" text-anchor="end">80</text>
<line x1="372.00" y1="109.40" x2="376.40" y2="109.40" stroke="#666" stroke-width="0.9"/>
<text transform="translate(367.40,113.14) scale(0.76,1)" font-size="9.58" text-anchor="end">85</text>
<line x1="372.00" y1="92.40" x2="376.40" y2="92.40" stroke="#666" stroke-width="0.9"/>
<text transform="translate(367.40,96.14) scale(0.76,1)" font-size="9.58" text-anchor="end">90</text>
<line x1="372.00" y1="75.40" x2="376.40" y2="75.40" stroke="#666" stroke-width="0.9"/>
<text transform="translate(367.40,79.14) scale(0.76,1)" font-size="9.58" text-anchor="end">95</text>
<line x1="372.00" y1="58.40" x2="376.40" y2="58.40" stroke="#666" stroke-width="0.9"/>
<text transform="translate(367.40,62.14) scale(0.76,1)" font-size="9.58" text-anchor="end">100</text>
<line x1="453.40" y1="182.00" x2="453.40" y2="186.80" stroke="#666" stroke-width="0.9"/>
<text transform="translate(453.40,200.70) scale(0.836,1)" font-size="9.27" text-anchor="middle">Female</text>
<line x1="586.20" y1="182.00" x2="586.20" y2="186.80" stroke="#666" stroke-width="0.9"/>
<text transform="translate(586.20,200.70) scale(0.836,1)" font-size="9.27" text-anchor="middle">Male</text>
<text transform="translate(519.90,222.30) scale(0.836,1)" font-size="9.27" text-anchor="middle">Gender</text>
<text transform="translate(348.58,117.85) rotate(-90) scale(1,1)" font-size="8.63" text-anchor="middle">MAP2</text>
<line x1="62.60" y1="364.60" x2="328.30" y2="364.60" stroke="#e8e8e8" stroke-width="0.9"/>
<line x1="62.60" y1="352.37" x2="328.30" y2="352.37" stroke="#e8e8e8" stroke-width="0.9"/>
<line x1="62.60" y1="340.13" x2="328.30" y2="340.13" stroke="#e8e8e8" stroke-width="0.9"/>
<line x1="62.60" y1="327.90" x2="328.30" y2="327.90" stroke="#e8e8e8" stroke-width="0.9"/>
<line x1="62.60" y1="315.67" x2="328.30" y2="315.67" stroke="#e8e8e8" stroke-width="0.9"/>
<line x1="62.60" y1="303.43" x2="328.30" y2="303.43" stroke="#e8e8e8" stroke-width="0.9"/>
<line x1="62.60" y1="291.20" x2="328.30" y2="291.20" stroke="#e8e8e8" stroke-width="0.9"/>
<line x1="62.60" y1="278.97" x2="328.30" y2="278.97" stroke="#e8e8e8" stroke-width="0.9"/>
<line x1="62.60" y1="266.73" x2="328.30" y2="266.73" stroke="#e8e8e8" stroke-width="0.9"/>
<line x1="62.60" y1="254.50" x2="328.30" y2="254.50" stroke="#e8e8e8" stroke-width="0.9"/>
<path d="M154.40,254.50 L153.88,255.00 L153.32,255.50 L152.72,256.00 L152.08,256.49 L151.40,256.99 L150.70,257.49 L149.97,257.99 L149.16,258.49 L148.30,258.99 L147.41,259.48 L146.50,259.98 L145.61,260.48 L144.72,260.98 L143.78,261.48 L142.84,261.98 L141.92,262.47 L141.06,262.97 L140.30,263.47 L139.58,263.97 L138.89,264.47 L138.25,264.97 L137.67,265.46 L137.18,265.96 L136.78,266.46 L136.40,266.96 L136.05,267.46 L135.74,267.96 L135.52,268.46 L135.41,268.95 L135.41,269.45 L135.48,269.95 L135.59,270.45 L135.73,270.95 L135.90,271.45 L136.08,271.94 L136.29,272.44 L136.57,272.94 L136.91,273.44 L137.32,273.94 L137.80,274.44 L138.34,274.93 L139.08,275.43 L140.05,275.93 L141.19,276.43 L142.42,276.93 L143.76,277.43 L145.33,277.92 L147.07,278.42 L148.91,278.92 L150.78,279.42 L152.63,279.92 L154.37,280.42 L155.95,280.92 L157.39,281.41 L158.79,281.91 L160.15,282.41 L161.47,282.91 L162.73,283.41 L163.93,283.91 L165.06,284.40 L166.11,284.90 L167.09,285.40 L168.05,285.90 L168.96,286.40 L169.74,286.90 L170.31,287.39 L170.70,287.89 L170.97,288.39 L170.93,288.89 L170.59,289.39 L170.11,289.89 L169.58,290.38 L168.91,290.88 L168.10,291.38 L167.15,291.88 L165.97,292.38 L164.42,292.88 L162.61,293.38 L160.67,293.87 L158.76,294.37 L157.00,294.87 L155.36,295.37 L153.71,295.87 L152.09,296.37 L150.56,296.86 L149.15,297.36 L147.92,297.86 L146.76,298.36 L145.67,298.86 L144.66,299.36 L143.75,299.85 L142.95,300.35 L142.26,300.85 L141.60,301.35 L140.99,301.85 L140.45,302.35 L140.02,302.84 L139.72,303.34 L139.53,303.84 L139.36,304.34 L139.21,304.84 L139.10,305.34 L139.02,305.84 L139.00,306.33 L139.05,306.83 L139.16,307.33 L139.32,307.83 L139.50,308.33 L139.68,308.83 L139.88,309.32 L140.14,309.82 L140.43,310.32 L140.68,310.82 L140.85,311.32 L140.90,311.82 L140.90,312.31 L140.90,312.81 L140.90,313.31 L140.90,313.81 L140.84,314.31 L140.65,314.81 L140.38,315.31 L140.10,315.80 L139.85,316.30 L139.57,316.80 L139.28,317.30 L138.98,317.80 L138.67,318.30 L138.36,318.79 L138.06,319.29 L137.74,319.79 L137.42,320.29 L137.11,320.79 L136.82,321.29 L136.56,321.78 L136.31,322.28 L136.08,322.78 L135.86,323.28 L135.66,323.78 L135.49,324.28 L135.36,324.77 L135.24,325.27 L135.13,325.77 L135.04,326.27 L134.96,326.77 L134.91,327.27 L134.88,327.77 L134.85,328.26 L134.82,328.76 L134.80,329.26 L134.78,329.76 L134.76,330.26 L134.74,330.76 L134.72,331.25 L134.71,331.75 L134.70,332.25 L134.68,332.75 L134.67,333.25 L134.67,333.75 L134.66,334.24 L134.65,334.74 L134.65,335.24 L134.64,335.74 L134.64,336.24 L134.64,336.74 L134.63,337.23 L134.63,337.73 L134.63,338.23 L134.63,338.73 L134.62,339.23 L134.62,339.73 L134.62,340.23 L134.62,340.72 L134.62,341.22 L134.61,341.72 L134.61,342.22 L134.61,342.72 L134.61,343.22 L134.61,343.71 L134.60,344.21 L134.60,344.71 L134.60,345.21 L134.60,345.71 L134.59,346.21 L134.59,346.70 L134.59,347.20 L134.59,347.70 L134.58,348.20 L134.58,348.70 L134.58,349.20 L134.58,349.69 L134.58,350.19 L134.57,350.69 L134.57,351.19 L134.57,351.69 L134.57,352.19 L134.56,352.69 L134.56,353.18 L134.56,353.68 L134.55,354.18 L134.55,354.68 L134.55,355.18 L134.55,355.68 L134.54,356.17 L134.54,356.67 L134.54,357.17 L134.53,357.67 L134.53,358.17 L134.53,358.67 L134.52,359.16 L134.52,359.66 L134.52,360.16 L134.51,360.66 L134.51,361.16 L134.50,361.66 L134.50,362.15 L133.90,362.15 L133.90,361.66 L133.89,361.16 L133.89,360.66 L133.88,360.16 L133.88,359.66 L133.88,359.16 L133.87,358.67 L133.87,358.17 L133.87,357.67 L133.86,357.17 L133.86,356.67 L133.86,356.17 L133.85,355.68 L133.85,355.18 L133.85,354.68 L133.85,354.18 L133.84,353.68 L133.84,353.18 L133.84,352.69 L133.83,352.19 L133.83,351.69 L133.83,351.19 L133.83,350.69 L133.82,350.19 L133.82,349.69 L133.82,349.20 L133.82,348.70 L133.82,348.20 L133.81,347.70 L133.81,347.20 L133.81,346.70 L133.81,346.21 L133.80,345.71 L133.80,345.21 L133.80,344.71 L133.80,344.21 L133.79,343.71 L133.79,343.22 L133.79,342.72 L133.79,342.22 L133.79,341.72 L133.78,341.22 L133.78,340.72 L133.78,340.23 L133.78,339.73 L133.78,339.23 L133.77,338.73 L133.77,338.23 L133.77,337.73 L133.77,337.23 L133.76,336.74 L133.76,336.24 L133.76,335.74 L133.75,335.24 L133.75,334.74 L133.74,334.24 L133.73,333.75 L133.73,333.25 L133.72,332.75 L133.70,332.25 L133.69,331.75 L133.68,331.25 L133.66,330.76 L133.64,330.26 L133.62,329.76 L133.60,329.26 L133.58,328.76 L133.55,328.26 L133.52,327.77 L133.49,327.27 L133.44,326.77 L133.36,326.27 L133.27,325.77 L133.16,325.27 L133.04,324.77 L132.91,324.28 L132.74,323.78 L132.54,323.28 L132.32,322.78 L132.09,322.28 L131.84,321.78 L131.58,321.29 L131.29,320.79 L130.98,320.29 L130.66,319.79 L130.34,319.29 L130.04,318.79 L129.73,318.30 L129.42,317.80 L129.12,317.30 L128.83,316.80 L128.55,316.30 L128.30,315.80 L128.02,315.31 L127.75,314.81 L127.56,314.31 L127.50,313.81 L127.50,313.31 L127.50,312.81 L127.50,312.31 L127.50,311.82 L127.55,311.32 L127.72,310.82 L127.97,310.32 L128.26,309.82 L128.52,309.32 L128.72,308.83 L128.90,308.33 L129.08,307.83 L129.24,307.33 L129.35,306.83 L129.40,306.33 L129.38,305.84 L129.30,305.34 L129.19,304.84 L129.04,304.34 L128.87,303.84 L128.68,303.34 L128.38,302.84 L127.95,302.35 L127.41,301.85 L126.80,301.35 L126.14,300.85 L125.45,300.35 L124.65,299.85 L123.74,299.36 L122.73,298.86 L121.64,298.36 L120.48,297.86 L119.25,297.36 L117.84,296.86 L116.31,296.37 L114.69,295.87 L113.04,295.37 L111.40,294.87 L109.64,294.37 L107.73,293.87 L105.79,293.38 L103.98,292.88 L102.43,292.38 L101.25,291.88 L100.30,291.38 L99.49,290.88 L98.82,290.38 L98.29,289.89 L97.81,289.39 L97.47,288.89 L97.43,288.39 L97.70,287.89 L98.09,287.39 L98.66,286.90 L99.44,286.40 L100.35,285.90 L101.31,285.40 L102.29,284.90 L103.34,284.40 L104.47,283.91 L105.67,283.41 L106.93,282.91 L108.25,282.41 L109.61,281.91 L111.01,281.41 L112.45,280.92 L114.03,280.42 L115.77,279.92 L117.62,279.42 L119.49,278.92 L121.33,278.42 L123.07,277.92 L124.64,277.43 L125.98,276.93 L127.21,276.43 L128.35,275.93 L129.32,275.43 L130.06,274.93 L130.60,274.44 L131.08,273.94 L131.49,273.44 L131.83,272.94 L132.11,272.44 L132.32,271.94 L132.50,271.45 L132.67,270.95 L132.81,270.45 L132.92,269.95 L132.99,269.45 L132.99,268.95 L132.88,268.46 L132.66,267.96 L132.35,267.46 L132.00,266.96 L131.62,266.46 L131.22,265.96 L130.73,265.46 L130.15,264.97 L129.51,264.47 L128.82,263.97 L128.10,263.47 L127.34,262.97 L126.48,262.47 L125.56,261.98 L124.62,261.48 L123.68,260.98 L122.79,260.48 L121.90,259.98 L120.99,259.48 L120.10,258.99 L119.24,258.49 L118.43,257.99 L117.70,257.49 L117.00,256.99 L116.32,256.49 L115.68,256.00 L115.08,255.50 L114.52,255.00 L114.00,254.50 Z" fill="rgb(148,175,217)" fill-opacity="0.55" stroke="rgba(0,0,0,0.72)" stroke-width="0.7" stroke-linejoin="round"/>
<path d="M271.66,254.50 L271.35,255.00 L271.00,255.50 L270.62,256.00 L270.21,256.49 L269.77,256.99 L269.30,257.49 L268.81,257.99 L268.24,258.49 L267.63,258.99 L267.00,259.48 L266.36,259.98 L265.74,260.48 L265.14,260.98 L264.52,261.48 L263.90,261.98 L263.31,262.47 L262.78,262.97 L262.34,263.47 L261.95,263.97 L261.59,264.47 L261.26,264.97 L260.97,265.46 L260.73,265.96 L260.54,266.46 L260.36,266.96 L260.20,267.46 L260.06,267.96 L259.95,268.46 L259.90,268.95 L259.91,269.45 L259.98,269.95 L260.08,270.45 L260.23,270.95 L260.39,271.45 L260.58,271.94 L260.82,272.44 L261.18,272.94 L261.63,273.44 L262.17,273.94 L262.78,274.44 L263.45,274.93 L264.29,275.43 L265.36,275.93 L266.59,276.43 L267.89,276.93 L269.20,277.43 L270.46,277.92 L271.74,278.42 L273.05,278.92 L274.40,279.42 L275.77,279.92 L277.18,280.42 L278.64,280.92 L280.22,281.41 L281.82,281.91 L283.32,282.41 L284.64,282.91 L286.02,283.41 L287.44,283.91 L288.84,284.40 L290.15,284.90 L291.31,285.40 L292.25,285.90 L292.90,286.40 L293.19,286.90 L293.19,287.39 L293.14,287.89 L293.05,288.39 L292.92,288.89 L292.76,289.39 L292.56,289.89 L292.32,290.38 L292.04,290.88 L291.10,291.38 L289.50,291.88 L287.63,292.38 L285.87,292.88 L284.43,293.38 L283.03,293.87 L281.65,294.37 L280.31,294.87 L278.99,295.37 L277.71,295.87 L276.43,296.37 L275.17,296.86 L273.97,297.36 L272.88,297.86 L271.91,298.36 L271.00,298.86 L270.16,299.36 L269.38,299.85 L268.70,300.35 L268.10,300.85 L267.49,301.35 L266.92,301.85 L266.46,302.35 L266.16,302.84 L266.07,303.34 L266.02,303.84 L265.98,304.34 L265.94,304.84 L265.92,305.34 L265.90,305.84 L265.90,306.33 L265.96,306.83 L266.12,307.33 L266.31,307.83 L266.51,308.33 L266.68,308.83 L266.81,309.32 L266.96,309.82 L267.09,310.32 L267.21,310.82 L267.28,311.32 L267.30,311.82 L267.26,312.31 L267.19,312.81 L267.08,313.31 L266.94,313.81 L266.79,314.31 L266.63,314.81 L266.39,315.31 L266.08,315.80 L265.73,316.30 L265.35,316.80 L264.98,317.30 L264.58,317.80 L264.14,318.30 L263.67,318.79 L263.20,319.29 L262.77,319.79 L262.41,320.29 L262.10,320.79 L261.83,321.29 L261.57,321.78 L261.34,322.28 L261.13,322.78 L260.93,323.28 L260.74,323.78 L260.56,324.28 L260.39,324.77 L260.25,325.27 L260.14,325.77 L260.06,326.27 L260.00,326.77 L259.94,327.27 L259.89,327.77 L259.84,328.26 L259.80,328.76 L259.76,329.26 L259.73,329.76 L259.69,330.26 L259.66,330.76 L259.63,331.25 L259.60,331.75 L259.57,332.25 L259.54,332.75 L259.51,333.25 L259.48,333.75 L259.46,334.24 L259.44,334.74 L259.41,335.24 L259.39,335.74 L259.36,336.24 L259.34,336.74 L259.31,337.23 L259.28,337.73 L259.25,338.23 L259.22,338.73 L259.18,339.23 L259.15,339.73 L259.11,340.23 L259.08,340.72 L259.04,341.22 L259.01,341.72 L258.97,342.22 L258.93,342.72 L258.89,343.22 L258.85,343.71 L258.81,344.21 L258.76,344.71 L258.72,345.21 L258.67,345.71 L258.62,346.21 L258.58,346.70 L258.53,347.20 L258.49,347.70 L258.45,348.20 L258.41,348.70 L258.38,349.20 L258.35,349.69 L258.32,350.19 L258.30,350.69 L258.27,351.19 L258.25,351.69 L258.22,352.19 L258.20,352.69 L258.18,353.18 L258.15,353.68 L258.12,354.18 L258.10,354.68 L258.07,355.18 L258.04,355.68 L258.01,356.17 L257.98,356.67 L257.94,357.17 L257.91,357.67 L257.88,358.17 L257.85,358.67 L257.81,359.16 L257.78,359.66 L257.75,360.16 L257.71,360.66 L257.68,361.16 L257.64,361.66 L257.60,362.15 L256.80,362.15 L256.76,361.66 L256.72,361.16 L256.69,360.66 L256.65,360.16 L256.62,359.66 L256.59,359.16 L256.55,358.67 L256.52,358.17 L256.49,357.67 L256.46,357.17 L256.42,356.67 L256.39,356.17 L256.36,355.68 L256.33,355.18 L256.30,354.68 L256.28,354.18 L256.25,353.68 L256.22,353.18 L256.20,352.69 L256.18,352.19 L256.15,351.69 L256.13,351.19 L256.10,350.69 L256.08,350.19 L256.05,349.69 L256.02,349.20 L255.99,348.70 L255.95,348.20 L255.91,347.70 L255.87,347.20 L255.82,346.70 L255.78,346.21 L255.73,345.71 L255.68,345.21 L255.64,344.71 L255.59,344.21 L255.55,343.71 L255.51,343.22 L255.47,342.72 L255.43,342.22 L255.39,341.72 L255.36,341.22 L255.32,340.72 L255.29,340.23 L255.25,339.73 L255.22,339.23 L255.18,338.73 L255.15,338.23 L255.12,337.73 L255.09,337.23 L255.06,336.74 L255.04,336.24 L255.01,335.74 L254.99,335.24 L254.96,334.74 L254.94,334.24 L254.92,333.75 L254.89,333.25 L254.86,332.75 L254.83,332.25 L254.80,331.75 L254.77,331.25 L254.74,330.76 L254.71,330.26 L254.67,329.76 L254.64,329.26 L254.60,328.76 L254.56,328.26 L254.51,327.77 L254.46,327.27 L254.40,326.77 L254.34,326.27 L254.26,325.77 L254.15,325.27 L254.01,324.77 L253.84,324.28 L253.66,323.78 L253.47,323.28 L253.27,322.78 L253.06,322.28 L252.83,321.78 L252.57,321.29 L252.30,320.79 L251.99,320.29 L251.63,319.79 L251.20,319.29 L250.73,318.79 L250.26,318.30 L249.82,317.80 L249.42,317.30 L249.05,316.80 L248.67,316.30 L248.32,315.80 L248.01,315.31 L247.77,314.81 L247.61,314.31 L247.46,313.81 L247.32,313.31 L247.21,312.81 L247.14,312.31 L247.10,311.82 L247.12,311.32 L247.19,310.82 L247.31,310.32 L247.44,309.82 L247.59,309.32 L247.72,308.83 L247.89,308.33 L248.09,307.83 L248.28,307.33 L248.44,306.83 L248.50,306.33 L248.50,305.84 L248.48,305.34 L248.46,304.84 L248.42,304.34 L248.38,303.84 L248.33,303.34 L248.24,302.84 L247.94,302.35 L247.48,301.85 L246.91,301.35 L246.30,300.85 L245.70,300.35 L245.02,299.85 L244.24,299.36 L243.40,298.86 L242.49,298.36 L241.52,297.86 L240.43,297.36 L239.23,296.86 L237.97,296.37 L236.69,295.87 L235.41,295.37 L234.09,294.87 L232.75,294.37 L231.37,293.87 L229.97,293.38 L228.53,292.88 L226.77,292.38 L224.90,291.88 L223.30,291.38 L222.36,290.88 L222.08,290.38 L221.84,289.89 L221.64,289.39 L221.48,288.89 L221.35,288.39 L221.26,287.89 L221.21,287.39 L221.21,286.90 L221.50,286.40 L222.15,285.90 L223.09,285.40 L224.25,284.90 L225.56,284.40 L226.96,283.91 L228.38,283.41 L229.76,282.91 L231.08,282.41 L232.58,281.91 L234.18,281.41 L235.76,280.92 L237.22,280.42 L238.63,279.92 L240.00,279.42 L241.35,278.92 L242.66,278.42 L243.94,277.92 L245.20,277.43 L246.51,276.93 L247.81,276.43 L249.04,275.93 L250.11,275.43 L250.95,274.93 L251.62,274.44 L252.23,273.94 L252.77,273.44 L253.22,272.94 L253.58,272.44 L253.82,271.94 L254.01,271.45 L254.17,270.95 L254.32,270.45 L254.42,269.95 L254.49,269.45 L254.50,268.95 L254.45,268.46 L254.34,267.96 L254.20,267.46 L254.04,266.96 L253.86,266.46 L253.67,265.96 L253.43,265.46 L253.14,264.97 L252.81,264.47 L252.45,263.97 L252.06,263.47 L251.62,262.97 L251.09,262.47 L250.50,261.98 L249.88,261.48 L249.26,260.98 L248.66,260.48 L248.04,259.98 L247.40,259.48 L246.77,258.99 L246.16,258.49 L245.59,257.99 L245.10,257.49 L244.63,256.99 L244.19,256.49 L243.78,256.00 L243.40,255.50 L243.05,255.00 L242.74,254.50 Z" fill="rgb(244,140,148)" fill-opacity="0.55" stroke="rgba(0,0,0,0.72)" stroke-width="0.7" stroke-linejoin="round"/>
<rect x="128.80" y="253.25" width="14.40" height="2.50" rx="1.25" fill="#000" fill-opacity="0.35" stroke="none"/>
<rect x="128.80" y="253.25" width="8.10" height="2.50" rx="1.25" fill="#000" fill-opacity="0.95" stroke="none"/>
<circle cx="124.00" cy="288.75" r="1.25" fill="#000" fill-opacity="0.2" stroke="none"/>
<circle cx="125.80" cy="288.75" r="1.25" fill="#000" fill-opacity="0.25" stroke="none"/>
<circle cx="146.20" cy="288.75" r="1.25" fill="#000" fill-opacity="0.2" stroke="none"/>
<rect x="128.50" y="287.50" width="12.60" height="2.50" rx="1.25" fill="#000" fill-opacity="0.95" stroke="none"/>
<circle cx="124.10" cy="313.22" r="1.25" fill="#000" fill-opacity="0.3" stroke="none"/>
<circle cx="144.60" cy="313.22" r="1.25" fill="#000" fill-opacity="0.2" stroke="none"/>
<rect x="130.50" y="311.97" width="10.00" height="2.50" rx="1.25" fill="#000" fill-opacity="0.45" stroke="none"/>
<rect x="130.50" y="311.97" width="2.70" height="2.50" rx="1.25" fill="#000" fill-opacity="0.95" stroke="none"/>
<circle cx="136.30" cy="362.15" r="1.25" fill="#000" fill-opacity="0.25" stroke="none"/>
<circle cx="250.50" cy="254.50" r="1.25" fill="#000" fill-opacity="0.5" stroke="none"/>
<circle cx="253.80" cy="254.50" r="1.25" fill="#000" fill-opacity="0.6" stroke="none"/>
<circle cx="257.90" cy="254.50" r="1.25" fill="#000" fill-opacity="0.95" stroke="none"/>
<circle cx="261.70" cy="254.50" r="1.25" fill="#000" fill-opacity="0.7" stroke="none"/>
<rect x="250.30" y="287.50" width="14.40" height="2.50" rx="1.25" fill="#000" fill-opacity="0.5" stroke="none"/>
<rect x="249.90" y="311.97" width="12.70" height="2.50" rx="1.25" fill="#000" fill-opacity="0.35" stroke="none"/>
<circle cx="255.60" cy="313.22" r="1.25" fill="#000" fill-opacity="0.8" stroke="none"/>
<circle cx="260.30" cy="313.22" r="1.25" fill="#000" fill-opacity="0.7" stroke="none"/>
<rect x="255.10" y="336.44" width="2.90" height="2.50" rx="1.25" fill="#000" fill-opacity="0.5" stroke="none"/>
<circle cx="251.60" cy="362.15" r="1.25" fill="#000" fill-opacity="0.25" stroke="none"/>
<rect x="95.40" y="278.50" width="77.60" height="5.90" fill="#fff" fill-opacity="0.9" stroke="#2a2a2a" stroke-width="0.9"/>
<line x1="79.85" y1="281.60" x2="188.55" y2="281.60" stroke="#000" stroke-width="2.1" stroke-linecap="round"/>
<rect x="218.10" y="283.60" width="78.20" height="6.90" fill="#fff" fill-opacity="0.9" stroke="#2a2a2a" stroke-width="0.9"/>
<line x1="202.55" y1="287.30" x2="311.85" y2="287.30" stroke="#000" stroke-width="2.1" stroke-linecap="round"/>
<rect x="62.60" y="250.40" width="265.70" height="118.50" fill="none" stroke="#8a8a8a" stroke-width="1.0"/>
<line x1="58.20" y1="364.60" x2="62.60" y2="364.60" stroke="#666" stroke-width="0.9"/>
<text transform="translate(54.40,368.23) scale(0.699,1)" font-size="9.3" text-anchor="end">55</text>
<line x1="58.20" y1="352.37" x2="62.60" y2="352.37" stroke="#666" stroke-width="0.9"/>
<text transform="translate(54.40,356.00) scale(0.699,1)" font-size="9.3" text-anchor="end">60</text>
<line x1="58.20" y1="340.13" x2="62.60" y2="340.13" stroke="#666" stroke-width="0.9"/>
<text transform="translate(54.40,343.76) scale(0.699,1)" font-size="9.3" text-anchor="end">65</text>
<line x1="58.20" y1="327.90" x2="62.60" y2="327.90" stroke="#666" stroke-width="0.9"/>
<text transform="translate(54.40,331.53) scale(0.699,1)" font-size="9.3" text-anchor="end">70</text>
<line x1="58.20" y1="315.67" x2="62.60" y2="315.67" stroke="#666" stroke-width="0.9"/>
<text transform="translate(54.40,319.29) scale(0.699,1)" font-size="9.3" text-anchor="end">75</text>
<line x1="58.20" y1="303.43" x2="62.60" y2="303.43" stroke="#666" stroke-width="0.9"/>
<text transform="translate(54.40,307.06) scale(0.699,1)" font-size="9.3" text-anchor="end">80</text>
<line x1="58.20" y1="291.20" x2="62.60" y2="291.20" stroke="#666" stroke-width="0.9"/>
<text transform="translate(54.40,294.83) scale(0.699,1)" font-size="9.3" text-anchor="end">85</text>
<line x1="58.20" y1="278.97" x2="62.60" y2="278.97" stroke="#666" stroke-width="0.9"/>
<text transform="translate(54.40,282.59) scale(0.699,1)" font-size="9.3" text-anchor="end">90</text>
<line x1="58.20" y1="266.73" x2="62.60" y2="266.73" stroke="#666" stroke-width="0.9"/>
<text transform="translate(54.40,270.36) scale(0.699,1)" font-size="9.3" text-anchor="end">95</text>
<line x1="58.20" y1="254.50" x2="62.60" y2="254.50" stroke="#666" stroke-width="0.9"/>
<text transform="translate(54.40,258.13) scale(0.699,1)" font-size="9.3" text-anchor="end">100</text>
<line x1="134.20" y1="368.90" x2="134.20" y2="373.70" stroke="#666" stroke-width="0.9"/>
<text transform="translate(134.20,386.70) scale(0.761,1)" font-size="9.27" text-anchor="middle">Female</text>
<line x1="257.20" y1="368.90" x2="257.20" y2="373.70" stroke="#666" stroke-width="0.9"/>
<text transform="translate(257.20,386.70) scale(0.761,1)" font-size="9.27" text-anchor="middle">Male</text>
<text transform="translate(195.60,406.60) scale(0.761,1)" font-size="9.27" text-anchor="middle">Gender</text>
<text transform="translate(36.59,310.15) rotate(-90) scale(1,1)" font-size="7.37" text-anchor="middle">ELA1</text>
<line x1="381.40" y1="368.41" x2="662.70" y2="368.41" stroke="#e8e8e8" stroke-width="0.9"/>
<line x1="381.40" y1="355.42" x2="662.70" y2="355.42" stroke="#e8e8e8" stroke-width="0.9"/>
<line x1="381.40" y1="342.43" x2="662.70" y2="342.43" stroke="#e8e8e8" stroke-width="0.9"/>
<line x1="381.40" y1="329.44" x2="662.70" y2="329.44" stroke="#e8e8e8" stroke-width="0.9"/>
<line x1="381.40" y1="316.45" x2="662.70" y2="316.45" stroke="#e8e8e8" stroke-width="0.9"/>
<line x1="381.40" y1="303.46" x2="662.70" y2="303.46" stroke="#e8e8e8" stroke-width="0.9"/>
<line x1="381.40" y1="290.47" x2="662.70" y2="290.47" stroke="#e8e8e8" stroke-width="0.9"/>
<line x1="381.40" y1="277.48" x2="662.70" y2="277.48" stroke="#e8e8e8" stroke-width="0.9"/>
<line x1="381.40" y1="264.49" x2="662.70" y2="264.49" stroke="#e8e8e8" stroke-width="0.9"/>
<line x1="381.40" y1="251.50" x2="662.70" y2="251.50" stroke="#e8e8e8" stroke-width="0.9"/>
<path d="M479.97,251.50 L479.60,252.00 L479.20,252.50 L478.75,253.00 L478.27,253.50 L477.76,254.00 L477.23,254.50 L476.65,254.99 L475.99,255.49 L475.27,255.99 L474.53,256.49 L473.81,256.99 L473.14,257.49 L472.53,257.99 L471.94,258.49 L471.38,258.99 L470.84,259.49 L470.32,259.99 L469.82,260.49 L469.30,260.98 L468.79,261.48 L468.30,261.98 L467.85,262.48 L467.49,262.98 L467.21,263.48 L466.95,263.98 L466.72,264.48 L466.52,264.98 L466.37,265.48 L466.30,265.98 L466.31,266.48 L466.34,266.97 L466.40,267.47 L466.48,267.97 L466.58,268.47 L466.69,268.97 L466.88,269.47 L467.19,269.97 L467.61,270.47 L468.10,270.97 L468.63,271.47 L469.17,271.97 L469.78,272.47 L470.48,272.96 L471.25,273.46 L472.09,273.96 L472.97,274.46 L473.89,274.96 L474.93,275.46 L476.05,275.96 L477.22,276.46 L478.41,276.96 L479.57,277.46 L480.72,277.96 L481.88,278.46 L483.05,278.95 L484.20,279.45 L485.33,279.95 L486.41,280.45 L487.55,280.95 L488.76,281.45 L489.92,281.95 L490.93,282.45 L491.68,282.95 L492.09,283.45 L492.37,283.95 L492.63,284.45 L492.87,284.94 L493.07,285.44 L493.26,285.94 L493.41,286.44 L493.53,286.94 L493.62,287.44 L493.68,287.94 L493.70,288.44 L493.65,288.94 L493.50,289.44 L493.24,289.94 L492.90,290.44 L492.47,290.94 L491.97,291.43 L491.42,291.93 L490.81,292.43 L490.16,292.93 L489.48,293.43 L488.79,293.93 L488.08,294.43 L487.35,294.93 L486.39,295.43 L485.25,295.93 L484.02,296.43 L482.79,296.93 L481.66,297.42 L480.66,297.92 L479.67,298.42 L478.71,298.92 L477.80,299.42 L476.98,299.92 L476.27,300.42 L475.65,300.92 L475.07,301.42 L474.53,301.92 L474.06,302.42 L473.66,302.92 L473.33,303.41 L473.04,303.91 L472.76,304.41 L472.52,304.91 L472.33,305.41 L472.22,305.91 L472.18,306.41 L472.16,306.91 L472.15,307.41 L472.14,307.91 L472.12,308.41 L472.10,308.91 L472.07,309.40 L472.03,309.90 L471.97,310.40 L471.91,310.90 L471.85,311.40 L471.80,311.90 L471.75,312.40 L471.71,312.90 L471.68,313.40 L471.63,313.90 L471.57,314.40 L471.50,314.90 L471.37,315.39 L471.16,315.89 L470.89,316.39 L470.58,316.89 L470.26,317.39 L469.94,317.89 L469.59,318.39 L469.19,318.89 L468.77,319.39 L468.34,319.89 L467.92,320.39 L467.54,320.89 L467.17,321.39 L466.80,321.88 L466.45,322.38 L466.11,322.88 L465.79,323.38 L465.50,323.88 L465.21,324.38 L464.94,324.88 L464.69,325.38 L464.45,325.88 L464.23,326.38 L464.03,326.88 L463.84,327.38 L463.64,327.87 L463.47,328.37 L463.33,328.87 L463.23,329.37 L463.18,329.87 L463.14,330.37 L463.10,330.87 L463.07,331.37 L463.05,331.87 L463.03,332.37 L463.01,332.87 L462.99,333.37 L462.97,333.86 L462.96,334.36 L462.93,334.86 L462.91,335.36 L462.88,335.86 L462.85,336.36 L462.82,336.86 L462.80,337.36 L462.77,337.86 L462.74,338.36 L462.70,338.86 L462.66,339.36 L462.61,339.85 L462.56,340.35 L462.48,340.85 L462.39,341.35 L462.28,341.85 L462.16,342.35 L462.04,342.85 L461.92,343.35 L461.81,343.85 L461.71,344.35 L461.61,344.85 L461.51,345.35 L461.40,345.84 L461.28,346.34 L461.17,346.84 L461.06,347.34 L460.96,347.84 L460.88,348.34 L460.80,348.84 L460.75,349.34 L460.71,349.84 L460.70,350.34 L460.70,350.84 L460.70,351.34 L460.70,351.83 L460.70,352.33 L460.70,352.83 L460.70,353.33 L460.70,353.83 L460.70,354.33 L460.70,354.83 L460.70,355.33 L460.70,355.83 L460.70,356.33 L460.71,356.83 L460.73,357.33 L460.75,357.83 L460.78,358.32 L460.82,358.82 L460.86,359.32 L460.90,359.82 L460.95,360.32 L460.99,360.82 L461.04,361.32 L461.08,361.82 L461.12,362.32 L461.15,362.82 L461.19,363.32 L461.23,363.82 L461.27,364.31 L461.32,364.81 L461.36,365.31 L461.40,365.81 L453.00,365.81 L453.04,365.31 L453.08,364.81 L453.13,364.31 L453.17,363.82 L453.21,363.32 L453.25,362.82 L453.28,362.32 L453.32,361.82 L453.36,361.32 L453.41,360.82 L453.45,360.32 L453.50,359.82 L453.54,359.32 L453.58,358.82 L453.62,358.32 L453.65,357.83 L453.67,357.33 L453.69,356.83 L453.70,356.33 L453.70,355.83 L453.70,355.33 L453.70,354.83 L453.70,354.33 L453.70,353.83 L453.70,353.33 L453.70,352.83 L453.70,352.33 L453.70,351.83 L453.70,351.34 L453.70,350.84 L453.70,350.34 L453.69,349.84 L453.65,349.34 L453.60,348.84 L453.52,348.34 L453.44,347.84 L453.34,347.34 L453.23,346.84 L453.12,346.34 L453.00,345.84 L452.89,345.35 L452.79,344.85 L452.69,344.35 L452.59,343.85 L452.48,343.35 L452.36,342.85 L452.24,342.35 L452.12,341.85 L452.01,341.35 L451.92,340.85 L451.84,340.35 L451.79,339.85 L451.74,339.36 L451.70,338.86 L451.66,338.36 L451.63,337.86 L451.60,337.36 L451.58,336.86 L451.55,336.36 L451.52,335.86 L451.49,335.36 L451.47,334.86 L451.44,334.36 L451.43,333.86 L451.41,333.37 L451.39,332.87 L451.37,332.37 L451.35,331.87 L451.33,331.37 L451.30,330.87 L451.26,330.37 L451.22,329.87 L451.17,329.37 L451.07,328.87 L450.93,328.37 L450.76,327.87 L450.56,327.38 L450.37,326.88 L450.17,326.38 L449.95,325.88 L449.71,325.38 L449.46,324.88 L449.19,324.38 L448.90,323.88 L448.61,323.38 L448.29,322.88 L447.95,322.38 L447.60,321.88 L447.23,321.39 L446.86,320.89 L446.48,320.39 L446.06,319.89 L445.63,319.39 L445.21,318.89 L444.81,318.39 L444.46,317.89 L444.14,317.39 L443.82,316.89 L443.51,316.39 L443.24,315.89 L443.03,315.39 L442.90,314.90 L442.83,314.40 L442.77,313.90 L442.72,313.40 L442.69,312.90 L442.65,312.40 L442.60,311.90 L442.55,311.40 L442.49,310.90 L442.43,310.40 L442.37,309.90 L442.33,309.40 L442.30,308.91 L442.28,308.41 L442.26,307.91 L442.25,307.41 L442.24,306.91 L442.22,306.41 L442.18,305.91 L442.07,305.41 L441.88,304.91 L441.64,304.41 L441.36,303.91 L441.07,303.41 L440.74,302.92 L440.34,302.42 L439.87,301.92 L439.33,301.42 L438.75,300.92 L438.13,300.42 L437.42,299.92 L436.60,299.42 L435.69,298.92 L434.73,298.42 L433.74,297.92 L432.74,297.42 L431.61,296.93 L430.38,296.43 L429.15,295.93 L428.01,295.43 L427.05,294.93 L426.32,294.43 L425.61,293.93 L424.92,293.43 L424.24,292.93 L423.59,292.43 L422.98,291.93 L422.43,291.43 L421.93,290.94 L421.50,290.44 L421.16,289.94 L420.90,289.44 L420.75,288.94 L420.70,288.44 L420.72,287.94 L420.78,287.44 L420.87,286.94 L420.99,286.44 L421.14,285.94 L421.33,285.44 L421.53,284.94 L421.77,284.45 L422.03,283.95 L422.31,283.45 L422.72,282.95 L423.47,282.45 L424.48,281.95 L425.64,281.45 L426.85,280.95 L427.99,280.45 L429.07,279.95 L430.20,279.45 L431.35,278.95 L432.52,278.46 L433.68,277.96 L434.83,277.46 L435.99,276.96 L437.18,276.46 L438.35,275.96 L439.47,275.46 L440.51,274.96 L441.43,274.46 L442.31,273.96 L443.15,273.46 L443.92,272.96 L444.62,272.47 L445.23,271.97 L445.77,271.47 L446.30,270.97 L446.79,270.47 L447.21,269.97 L447.52,269.47 L447.71,268.97 L447.82,268.47 L447.92,267.97 L448.00,267.47 L448.06,266.97 L448.09,266.48 L448.10,265.98 L448.03,265.48 L447.88,264.98 L447.68,264.48 L447.45,263.98 L447.19,263.48 L446.91,262.98 L446.55,262.48 L446.10,261.98 L445.61,261.48 L445.10,260.98 L444.58,260.49 L444.08,259.99 L443.56,259.49 L443.02,258.99 L442.46,258.49 L441.87,257.99 L441.26,257.49 L440.59,256.99 L439.87,256.49 L439.13,255.99 L438.41,255.49 L437.75,254.99 L437.17,254.50 L436.64,254.00 L436.13,253.50 L435.65,253.00 L435.20,252.50 L434.80,252.00 L434.43,251.50 Z" fill="rgb(148,175,217)" fill-opacity="0.55" stroke="rgba(0,0,0,0.72)" stroke-width="0.7" stroke-linejoin="round"/>
<path d="M607.14,251.50 L606.42,252.00 L605.66,252.50 L604.88,253.00 L604.07,253.50 L603.23,254.00 L602.36,254.50 L601.46,254.99 L600.48,255.49 L599.46,255.99 L598.43,256.49 L597.42,256.99 L596.49,257.49 L595.63,257.99 L594.80,258.49 L593.99,258.99 L593.23,259.49 L592.53,259.99 L591.90,260.49 L591.29,260.98 L590.71,261.48 L590.16,261.98 L589.68,262.48 L589.29,262.98 L589.01,263.48 L588.75,263.98 L588.51,264.48 L588.31,264.98 L588.17,265.48 L588.10,265.98 L588.11,266.48 L588.17,266.97 L588.26,267.47 L588.39,267.97 L588.53,268.47 L588.69,268.97 L588.90,269.47 L589.21,269.97 L589.60,270.47 L590.05,270.97 L590.54,271.47 L591.07,271.97 L591.69,272.47 L592.44,272.96 L593.27,273.46 L594.18,273.96 L595.13,274.46 L596.13,274.96 L597.21,275.46 L598.37,275.96 L599.62,276.46 L600.93,276.96 L602.30,277.46 L603.76,277.96 L605.37,278.46 L607.08,278.95 L608.83,279.45 L610.55,279.95 L612.17,280.45 L613.93,280.95 L615.85,281.45 L617.70,281.95 L619.26,282.45 L620.30,282.95 L620.64,283.45 L620.75,283.95 L620.84,284.45 L620.93,284.94 L621.00,285.44 L621.06,285.94 L621.11,286.44 L621.15,286.94 L621.18,287.44 L621.19,287.94 L621.20,288.44 L621.09,288.94 L620.71,289.44 L620.09,289.94 L619.26,290.44 L618.25,290.94 L617.09,291.43 L615.81,291.93 L614.44,292.43 L613.01,292.93 L611.55,293.43 L610.10,293.93 L608.41,294.43 L606.24,294.93 L603.95,295.43 L601.89,295.93 L600.28,296.43 L598.82,296.93 L597.49,297.42 L596.34,297.92 L595.38,298.42 L594.49,298.92 L593.68,299.42 L593.05,299.92 L592.69,300.42 L592.49,300.92 L592.32,301.42 L592.18,301.92 L592.08,302.42 L592.01,302.92 L592.01,303.41 L592.17,303.91 L592.52,304.41 L593.00,304.91 L593.54,305.41 L594.10,305.91 L594.66,306.41 L595.38,306.91 L596.19,307.41 L597.02,307.91 L597.78,308.41 L598.40,308.91 L598.90,309.40 L599.40,309.90 L599.86,310.40 L600.24,310.90 L600.50,311.40 L600.60,311.90 L600.60,312.40 L600.60,312.90 L600.60,313.40 L600.60,313.90 L600.60,314.40 L600.60,314.90 L600.48,315.39 L600.15,315.89 L599.68,316.39 L599.13,316.89 L598.55,317.39 L598.00,317.89 L597.41,318.39 L596.73,318.89 L596.02,319.39 L595.30,319.89 L594.61,320.39 L594.00,320.89 L593.42,321.39 L592.84,321.88 L592.29,322.38 L591.79,322.88 L591.34,323.38 L590.97,323.88 L590.60,324.38 L590.25,324.88 L589.93,325.38 L589.68,325.88 L589.53,326.38 L589.50,326.88 L589.51,327.38 L589.54,327.87 L589.57,328.37 L589.62,328.87 L589.67,329.37 L589.75,329.87 L589.90,330.37 L590.13,330.87 L590.39,331.37 L590.68,331.87 L590.97,332.37 L591.25,332.87 L591.58,333.37 L591.94,333.86 L592.29,334.36 L592.60,334.86 L592.85,335.36 L593.02,335.86 L593.19,336.36 L593.34,336.86 L593.46,337.36 L593.55,337.86 L593.60,338.36 L593.59,338.86 L593.56,339.36 L593.50,339.85 L593.41,340.35 L593.32,340.85 L593.21,341.35 L593.05,341.85 L592.80,342.35 L592.47,342.85 L592.12,343.35 L591.76,343.85 L591.43,344.35 L591.13,344.85 L590.80,345.35 L590.48,345.84 L590.18,346.34 L589.91,346.84 L589.68,347.34 L589.49,347.84 L589.32,348.34 L589.16,348.84 L589.02,349.34 L588.90,349.84 L588.79,350.34 L588.70,350.84 L588.60,351.34 L588.51,351.83 L588.42,352.33 L588.34,352.83 L588.28,353.33 L588.23,353.83 L588.21,354.33 L588.20,354.83 L588.20,355.33 L588.20,355.83 L588.20,356.33 L588.20,356.83 L588.20,357.33 L588.20,357.83 L588.20,358.32 L588.20,358.82 L588.20,359.32 L588.23,359.82 L588.27,360.32 L588.33,360.82 L588.41,361.32 L588.49,361.82 L588.58,362.32 L588.67,362.82 L588.75,363.32 L588.83,363.82 L588.92,364.31 L589.01,364.81 L589.10,365.31 L589.20,365.81 L585.20,365.81 L585.30,365.31 L585.39,364.81 L585.48,364.31 L585.57,363.82 L585.65,363.32 L585.73,362.82 L585.82,362.32 L585.91,361.82 L585.99,361.32 L586.07,360.82 L586.13,360.32 L586.17,359.82 L586.20,359.32 L586.20,358.82 L586.20,358.32 L586.20,357.83 L586.20,357.33 L586.20,356.83 L586.20,356.33 L586.20,355.83 L586.20,355.33 L586.20,354.83 L586.19,354.33 L586.17,353.83 L586.12,353.33 L586.06,352.83 L585.98,352.33 L585.89,351.83 L585.80,351.34 L585.70,350.84 L585.61,350.34 L585.50,349.84 L585.38,349.34 L585.24,348.84 L585.08,348.34 L584.91,347.84 L584.72,347.34 L584.49,346.84 L584.22,346.34 L583.92,345.84 L583.60,345.35 L583.27,344.85 L582.97,344.35 L582.64,343.85 L582.28,343.35 L581.93,342.85 L581.60,342.35 L581.35,341.85 L581.19,341.35 L581.08,340.85 L580.99,340.35 L580.90,339.85 L580.84,339.36 L580.81,338.86 L580.80,338.36 L580.85,337.86 L580.94,337.36 L581.06,336.86 L581.21,336.36 L581.38,335.86 L581.55,335.36 L581.80,334.86 L582.11,334.36 L582.46,333.86 L582.82,333.37 L583.15,332.87 L583.43,332.37 L583.72,331.87 L584.01,331.37 L584.27,330.87 L584.50,330.37 L584.65,329.87 L584.73,329.37 L584.78,328.87 L584.83,328.37 L584.86,327.87 L584.89,327.38 L584.90,326.88 L584.87,326.38 L584.72,325.88 L584.47,325.38 L584.15,324.88 L583.80,324.38 L583.43,323.88 L583.06,323.38 L582.61,322.88 L582.11,322.38 L581.56,321.88 L580.98,321.39 L580.40,320.89 L579.79,320.39 L579.10,319.89 L578.38,319.39 L577.67,318.89 L576.99,318.39 L576.40,317.89 L575.85,317.39 L575.27,316.89 L574.72,316.39 L574.25,315.89 L573.92,315.39 L573.80,314.90 L573.80,314.40 L573.80,313.90 L573.80,313.40 L573.80,312.90 L573.80,312.40 L573.80,311.90 L573.90,311.40 L574.16,310.90 L574.54,310.40 L575.00,309.90 L575.50,309.40 L576.00,308.91 L576.62,308.41 L577.38,307.91 L578.21,307.41 L579.02,306.91 L579.74,306.41 L580.30,305.91 L580.86,305.41 L581.40,304.91 L581.88,304.41 L582.23,303.91 L582.39,303.41 L582.39,302.92 L582.32,302.42 L582.22,301.92 L582.08,301.42 L581.91,300.92 L581.71,300.42 L581.35,299.92 L580.72,299.42 L579.91,298.92 L579.02,298.42 L578.06,297.92 L576.91,297.42 L575.58,296.93 L574.12,296.43 L572.51,295.93 L570.45,295.43 L568.16,294.93 L565.99,294.43 L564.30,293.93 L562.85,293.43 L561.39,292.93 L559.96,292.43 L558.59,291.93 L557.31,291.43 L556.15,290.94 L555.14,290.44 L554.31,289.94 L553.69,289.44 L553.31,288.94 L553.20,288.44 L553.21,287.94 L553.22,287.44 L553.25,286.94 L553.29,286.44 L553.34,285.94 L553.40,285.44 L553.47,284.94 L553.56,284.45 L553.65,283.95 L553.76,283.45 L554.10,282.95 L555.14,282.45 L556.70,281.95 L558.55,281.45 L560.47,280.95 L562.23,280.45 L563.85,279.95 L565.57,279.45 L567.32,278.95 L569.03,278.46 L570.64,277.96 L572.10,277.46 L573.47,276.96 L574.78,276.46 L576.03,275.96 L577.19,275.46 L578.27,274.96 L579.27,274.46 L580.22,273.96 L581.13,273.46 L581.96,272.96 L582.71,272.47 L583.33,271.97 L583.86,271.47 L584.35,270.97 L584.80,270.47 L585.19,269.97 L585.50,269.47 L585.71,268.97 L585.87,268.47 L586.01,267.97 L586.14,267.47 L586.23,266.97 L586.29,266.48 L586.30,265.98 L586.23,265.48 L586.09,264.98 L585.89,264.48 L585.65,263.98 L585.39,263.48 L585.11,262.98 L584.72,262.48 L584.24,261.98 L583.69,261.48 L583.11,260.98 L582.50,260.49 L581.87,259.99 L581.17,259.49 L580.41,258.99 L579.60,258.49 L578.77,257.99 L577.91,257.49 L576.98,256.99 L575.97,256.49 L574.94,255.99 L573.92,255.49 L572.94,254.99 L572.04,254.50 L571.17,254.00 L570.33,253.50 L569.52,253.00 L568.74,252.50 L567.98,252.00 L567.26,251.50 Z" fill="rgb(244,140,148)" fill-opacity="0.55" stroke="rgba(0,0,0,0.72)" stroke-width="0.7" stroke-linejoin="round"/>
<rect x="446.10" y="250.25" width="20.40" height="2.50" rx="1.25" fill="#000" fill-opacity="0.45" stroke="none"/>
<rect x="451.00" y="250.25" width="12.90" height="2.50" rx="1.25" fill="#000" fill-opacity="0.95" stroke="none"/>
<rect x="446.30" y="286.62" width="21.40" height="2.50" rx="1.25" fill="#000" fill-opacity="0.6" stroke="none"/>
<rect x="449.40" y="312.60" width="14.50" height="2.50" rx="1.25" fill="#000" fill-opacity="0.5" stroke="none"/>
<rect x="451.80" y="312.60" width="11.70" height="2.50" rx="1.25" fill="#000" fill-opacity="0.6" stroke="none"/>
<rect x="452.30" y="312.60" width="2.90" height="2.50" rx="1.25" fill="#000" fill-opacity="0.8" stroke="none"/>
<rect x="452.20" y="338.58" width="10.20" height="2.50" rx="1.25" fill="#000" fill-opacity="0.3" stroke="none"/>
<circle cx="453.00" cy="339.83" r="1.25" fill="#000" fill-opacity="0.6" stroke="none"/>
<circle cx="458.00" cy="339.83" r="1.25" fill="#000" fill-opacity="0.6" stroke="none"/>
<circle cx="462.00" cy="339.83" r="1.25" fill="#000" fill-opacity="0.6" stroke="none"/>
<rect x="454.40" y="364.56" width="7.10" height="2.50" rx="1.25" fill="#000" fill-opacity="0.5" stroke="none"/>
<circle cx="460.00" cy="365.81" r="1.25" fill="#000" fill-opacity="0.9" stroke="none"/>
<rect x="578.30" y="250.25" width="18.40" height="2.50" rx="1.25" fill="#000" fill-opacity="0.45" stroke="none"/>
<rect x="584.00" y="250.25" width="3.40" height="2.50" rx="1.25" fill="#000" fill-opacity="0.95" stroke="none"/>
<rect x="588.00" y="250.25" width="6.70" height="2.50" rx="1.25" fill="#000" fill-opacity="0.7" stroke="none"/>
<rect x="578.30" y="286.62" width="17.40" height="2.50" rx="1.25" fill="#000" fill-opacity="0.6" stroke="none"/>
<rect x="581.10" y="312.60" width="13.40" height="2.50" rx="1.25" fill="#000" fill-opacity="0.25" stroke="none"/>
<rect x="581.10" y="312.60" width="9.10" height="2.50" rx="1.25" fill="#000" fill-opacity="0.6" stroke="none"/>
<rect x="584.30" y="312.60" width="5.40" height="2.50" rx="1.25" fill="#000" fill-opacity="0.85" stroke="none"/>
<circle cx="580.00" cy="339.83" r="1.25" fill="#000" fill-opacity="0.2" stroke="none"/>
<rect x="586.30" y="338.58" width="5.20" height="2.50" rx="1.25" fill="#000" fill-opacity="0.5" stroke="none"/>
<circle cx="594.50" cy="339.83" r="1.25" fill="#000" fill-opacity="0.12" stroke="none"/>
<circle cx="597.50" cy="339.83" r="1.25" fill="#000" fill-opacity="0.12" stroke="none"/>
<circle cx="589.00" cy="365.81" r="1.25" fill="#000" fill-opacity="0.9" stroke="none"/>
<rect x="416.10" y="285.00" width="82.20" height="8.90" fill="#fff" fill-opacity="0.9" stroke="#2a2a2a" stroke-width="0.9"/>
<line x1="399.35" y1="289.30" x2="515.05" y2="289.30" stroke="#000" stroke-width="2.1" stroke-linecap="round"/>
<rect x="546.10" y="285.00" width="82.20" height="8.90" fill="#fff" fill-opacity="0.9" stroke="#2a2a2a" stroke-width="0.9"/>
<line x1="529.55" y1="289.30" x2="644.85" y2="289.30" stroke="#000" stroke-width="2.1" stroke-linecap="round"/>
<rect x="381.40" y="246.60" width="281.30" height="126.00" fill="none" stroke="#8a8a8a" stroke-width="1.0"/>
<line x1="377.00" y1="368.41" x2="381.40" y2="368.41" stroke="#666" stroke-width="0.9"/>
<text transform="translate(373.00,372.04) scale(0.755,1)" font-size="9.3" text-anchor="end">55</text>
<line x1="377.00" y1="355.42" x2="381.40" y2="355.42" stroke="#666" stroke-width="0.9"/>
<text transform="translate(373.00,359.05) scale(0.755,1)" font-size="9.3" text-anchor="end">60</text>
<line x1="377.00" y1="342.43" x2="381.40" y2="342.43" stroke="#666" stroke-width="0.9"/>
<text transform="translate(373.00,346.06) scale(0.755,1)" font-size="9.3" text-anchor="end">65</text>
<line x1="377.00" y1="329.44" x2="381.40" y2="329.44" stroke="#666" stroke-width="0.9"/>
<text transform="translate(373.00,333.07) scale(0.755,1)" font-size="9.3" text-anchor="end">70</text>
<line x1="377.00" y1="316.45" x2="381.40" y2="316.45" stroke="#666" stroke-width="0.9"/>
<text transform="translate(373.00,320.08) scale(0.755,1)" font-size="9.3" text-anchor="end">75</text>
<line x1="377.00" y1="303.46" x2="381.40" y2="303.46" stroke="#666" stroke-width="0.9"/>
<text transform="translate(373.00,307.09) scale(0.755,1)" font-size="9.3" text-anchor="end">80</text>
<line x1="377.00" y1="290.47" x2="381.40" y2="290.47" stroke="#666" stroke-width="0.9"/>
<text transform="translate(373.00,294.10) scale(0.755,1)" font-size="9.3" text-anchor="end">85</text>
<line x1="377.00" y1="277.48" x2="381.40" y2="277.48" stroke="#666" stroke-width="0.9"/>
<text transform="translate(373.00,281.11) scale(0.755,1)" font-size="9.3" text-anchor="end">90</text>
<line x1="377.00" y1="264.49" x2="381.40" y2="264.49" stroke="#666" stroke-width="0.9"/>
<text transform="translate(373.00,268.12) scale(0.755,1)" font-size="9.3" text-anchor="end">95</text>
<line x1="377.00" y1="251.50" x2="381.40" y2="251.50" stroke="#666" stroke-width="0.9"/>
<text transform="translate(373.00,255.13) scale(0.755,1)" font-size="9.3" text-anchor="end">100</text>
<line x1="457.20" y1="372.60" x2="457.20" y2="377.40" stroke="#666" stroke-width="0.9"/>
<text transform="translate(457.20,391.70) scale(0.776,1)" font-size="9.54" text-anchor="middle">Female</text>
<line x1="587.20" y1="372.60" x2="587.20" y2="377.40" stroke="#666" stroke-width="0.9"/>
<text transform="translate(587.20,391.70) scale(0.776,1)" font-size="9.54" text-anchor="middle">Male</text>
<text transform="translate(522.20,412.40) scale(0.776,1)" font-size="9.54" text-anchor="middle">Gender</text>
<text transform="translate(354.26,310.15) rotate(-90) scale(1,1)" font-size="8.29" text-anchor="middle">ELA2</text></g></svg>
</body></html>
